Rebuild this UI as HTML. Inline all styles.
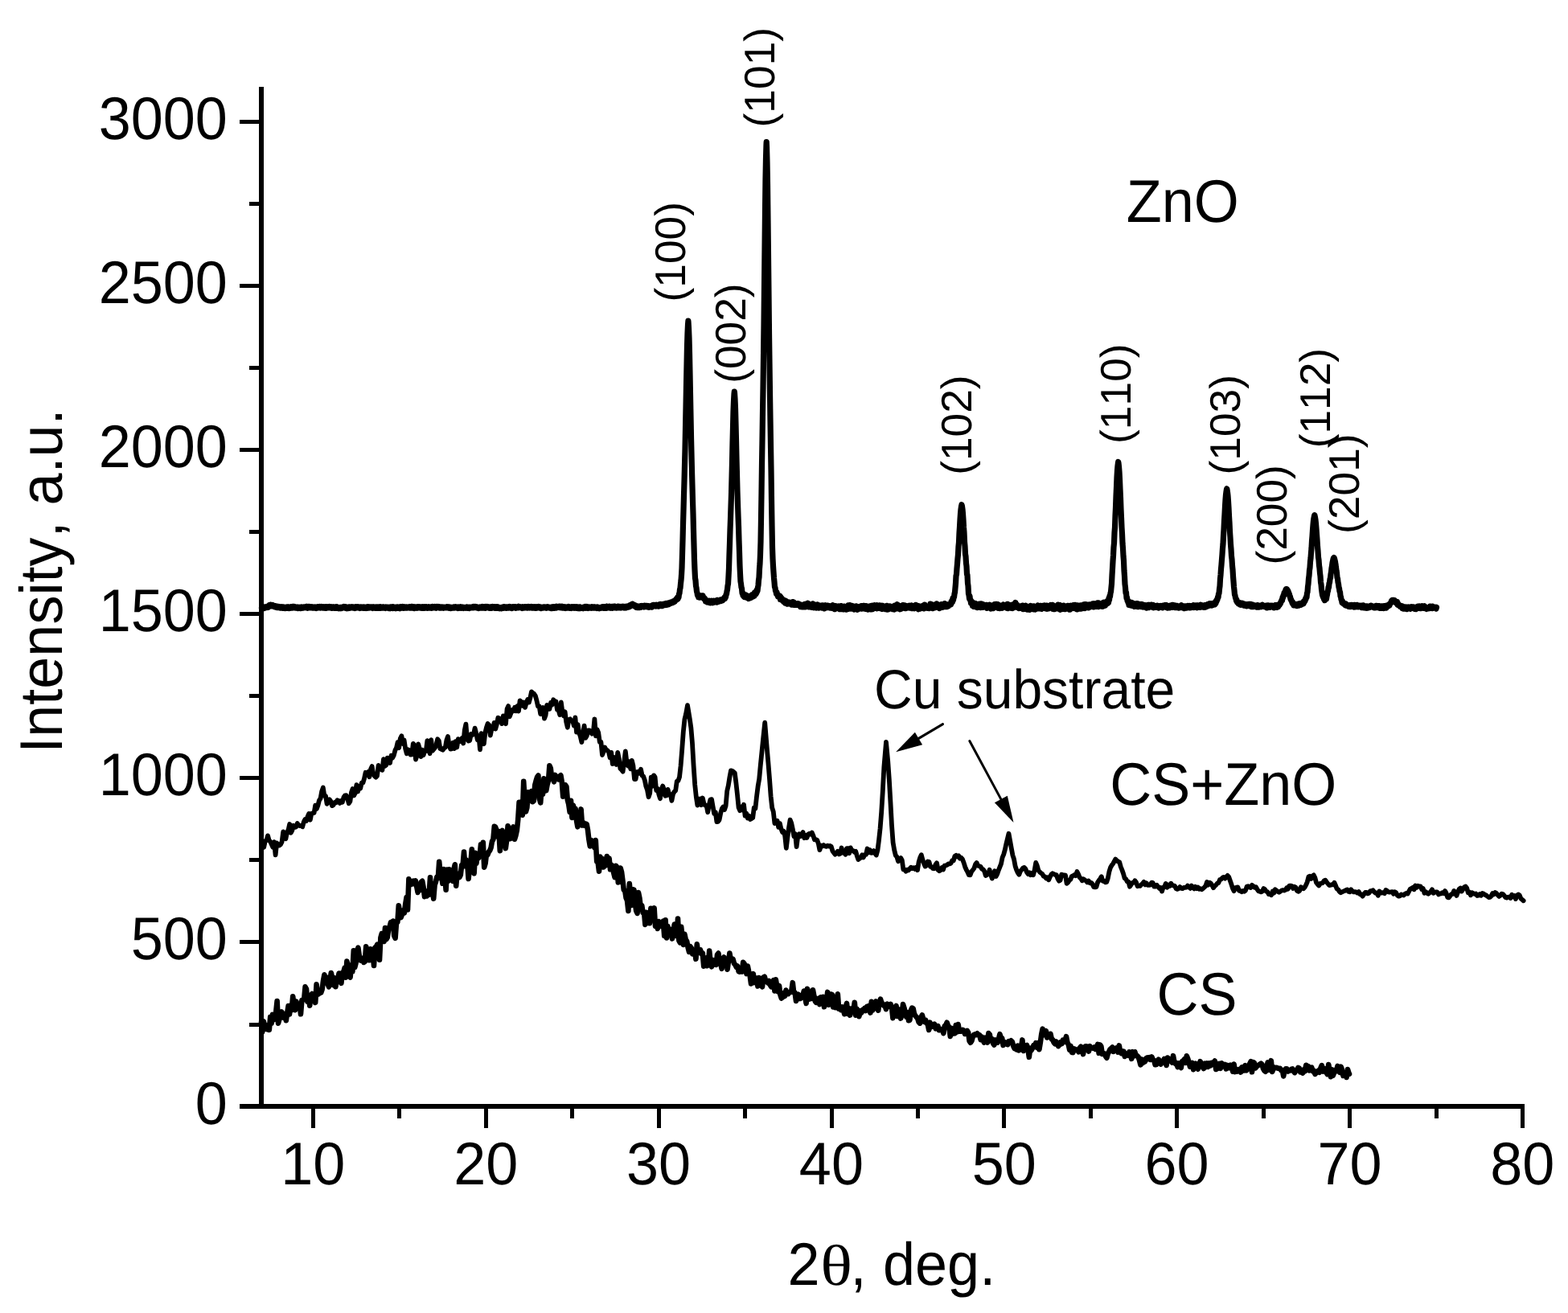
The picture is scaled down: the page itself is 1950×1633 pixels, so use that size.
<!DOCTYPE html>
<html lang="en"><head><meta charset="utf-8"><title>XRD patterns: ZnO, CS+ZnO, CS</title>
<style>html,body{margin:0;padding:0;background:#fff;width:1950px;height:1633px;overflow:hidden}svg{display:block}text{font-family:"Liberation Sans",sans-serif;fill:#000;font-kerning:none;font-variant-ligatures:none;text-rendering:geometricPrecision}.t72{font-size:72px}.t67{font-size:66px}.t53{font-size:53.3px}.sym{font-family:"Liberation Serif",serif}.cv{stroke:#000;fill:none;stroke-linejoin:round;stroke-linecap:round}</style></head><body>
<svg width="1950" height="1633" viewBox="0 0 1950 1633">
<rect width="1950" height="1633" fill="#fff"/>
<g fill="#000" shape-rendering="crispEdges">
<rect x="322" y="108" width="6" height="1271"/>
<rect x="298" y="1373" width="1598" height="6"/>
<rect x="310" y="1271.5" width="12" height="5"/>
<rect x="298" y="1169.4" width="24" height="5"/>
<rect x="310" y="1067.4" width="12" height="5"/>
<rect x="298" y="965.3" width="24" height="5"/>
<rect x="310" y="863.3" width="12" height="5"/>
<rect x="298" y="761.3" width="24" height="5"/>
<rect x="310" y="659.2" width="12" height="5"/>
<rect x="298" y="557.2" width="24" height="5"/>
<rect x="310" y="455.1" width="12" height="5"/>
<rect x="298" y="353.1" width="24" height="5"/>
<rect x="310" y="251.1" width="12" height="5"/>
<rect x="298" y="149.0" width="24" height="5"/>
<rect x="387.0" y="1379" width="5" height="24"/>
<rect x="494.4" y="1379" width="5" height="12"/>
<rect x="601.9" y="1379" width="5" height="24"/>
<rect x="709.3" y="1379" width="5" height="12"/>
<rect x="816.7" y="1379" width="5" height="24"/>
<rect x="924.1" y="1379" width="5" height="12"/>
<rect x="1031.6" y="1379" width="5" height="24"/>
<rect x="1139.0" y="1379" width="5" height="12"/>
<rect x="1246.4" y="1379" width="5" height="24"/>
<rect x="1353.9" y="1379" width="5" height="12"/>
<rect x="1461.3" y="1379" width="5" height="24"/>
<rect x="1568.7" y="1379" width="5" height="12"/>
<rect x="1676.2" y="1379" width="5" height="24"/>
<rect x="1783.6" y="1379" width="5" height="12"/>
<rect x="1891.0" y="1379" width="5" height="24"/>
</g>
<text class="t72" text-anchor="end" transform="translate(282.8,1397.5) scale(1,1.04)">0</text>
<text class="t72" text-anchor="end" transform="translate(282.8,1193.4) scale(1,1.04)">500</text>
<text class="t72" text-anchor="end" transform="translate(282.8,989.3) scale(1,1.04)">1000</text>
<text class="t72" text-anchor="end" transform="translate(282.8,785.3) scale(1,1.04)">1500</text>
<text class="t72" text-anchor="end" transform="translate(282.8,581.2) scale(1,1.04)">2000</text>
<text class="t72" text-anchor="end" transform="translate(282.8,377.1) scale(1,1.04)">2500</text>
<text class="t72" text-anchor="end" transform="translate(282.8,173.0) scale(1,1.04)">3000</text>
<text class="t72" text-anchor="middle" transform="translate(389.3,1473.4) scale(1,1.04)">10</text>
<text class="t72" text-anchor="middle" transform="translate(604.2,1473.4) scale(1,1.04)">20</text>
<text class="t72" text-anchor="middle" transform="translate(819.0,1473.4) scale(1,1.04)">30</text>
<text class="t72" text-anchor="middle" transform="translate(1033.9,1473.4) scale(1,1.04)">40</text>
<text class="t72" text-anchor="middle" transform="translate(1248.7,1473.4) scale(1,1.04)">50</text>
<text class="t72" text-anchor="middle" transform="translate(1463.6,1473.4) scale(1,1.04)">60</text>
<text class="t72" text-anchor="middle" transform="translate(1678.5,1473.4) scale(1,1.04)">70</text>
<text class="t72" text-anchor="middle" transform="translate(1893.3,1473.4) scale(1,1.04)">80</text>
<text class="t72" text-anchor="middle" transform="translate(77.4,722.6) rotate(-90) scale(1,1.04)">Intensity, a.u.</text>
<text class="t72" transform="translate(979.5,1598.4) scale(1,1.04)">2</text>
<text class="t72 sym" transform="translate(1020.2,1598.4) scale(1.15,1.0)">θ</text>
<text class="t72" transform="translate(1057.6,1598.4) scale(1,1.04)">,</text>
<text class="t72" transform="translate(1098.0,1598.4) scale(1,1.04)">deg.</text>
<text class="t72" transform="translate(1400.7,275.9) scale(1,1.04)">ZnO</text>
<text class="t67" transform="translate(1087.0,881.2) scale(1,1.04)">Cu substrate</text>
<text class="t72" transform="translate(1380.2,1001.0) scale(1,1.04)">CS+ZnO</text>
<text class="t72" transform="translate(1438.4,1261.5) scale(1,1.04)">CS</text>
<text class="t53" text-anchor="middle" transform="translate(852.3,313.3) rotate(-90)">(100)</text>
<text class="t53" text-anchor="middle" transform="translate(926.6,414.6) rotate(-90)">(002)</text>
<text class="t53" text-anchor="middle" transform="translate(962.5,96.2) rotate(-90)">(101)</text>
<text class="t53" text-anchor="middle" transform="translate(1207.7,528.6) rotate(-90)">(102)</text>
<text class="t53" text-anchor="middle" transform="translate(1406.2,489.7) rotate(-90)">(110)</text>
<text class="t53" text-anchor="middle" transform="translate(1542.4,528.3) rotate(-90)">(103)</text>
<text class="t53" text-anchor="middle" transform="translate(1599.8,640.4) rotate(-90)">(200)</text>
<text class="t53" text-anchor="middle" transform="translate(1653.8,495.1) rotate(-90)">(112)</text>
<text class="t53" text-anchor="middle" transform="translate(1689.8,601.7) rotate(-90)">(201)</text>
<path d="M1172.5,900.6 L1142.5,918.4" stroke="#000" stroke-width="3" fill="none" stroke-linecap="round"/><path d="M1114.1,935.3 L1137.9,910.7 L1147.1,926.2 Z" fill="#000"/>
<path d="M1205.8,921.5 L1244.8,993.9" stroke="#000" stroke-width="3" fill="none" stroke-linecap="round"/><path d="M1260.5,1023.0 L1236.9,998.2 L1252.8,989.7 Z" fill="#000"/>
<polyline class="cv" stroke-width="7.2" points="325.5,755.9 326.0,755.0 326.5,756.2 327.0,755.2 327.5,756.1 328.0,755.0 328.5,756.5 329.0,755.0 329.5,756.0 330.0,755.4 330.5,755.6 331.0,754.8 331.5,755.5 332.0,754.7 332.5,754.7 333.0,754.5 333.5,755.2 334.0,753.5 334.5,754.0 335.0,752.6 335.5,754.0 336.0,752.5 336.5,753.3 337.0,752.3 337.5,753.8 338.0,753.1 338.5,753.3 339.0,752.4 339.5,753.7 340.0,753.4 340.5,753.8 341.0,753.5 341.5,754.9 342.0,753.6 342.5,754.7 343.0,753.9 343.5,755.0 344.0,754.0 344.5,755.6 345.0,754.5 345.5,755.5 346.0,754.5 346.5,755.3 347.0,754.6 347.5,755.6 348.0,754.8 348.5,756.1 349.0,755.4 349.5,755.5 350.0,754.8 350.5,755.8 351.0,755.3 351.5,756.3 352.0,755.3 352.5,756.0 353.0,755.1 353.5,756.3 354.0,755.4 354.5,756.6 355.0,755.6 355.5,756.1 356.0,755.7 356.5,756.1 357.0,755.0 357.5,755.8 358.0,755.2 358.5,755.8 359.0,755.0 359.5,756.5 360.0,755.1 360.5,755.8 361.0,755.1 361.5,756.2 362.0,755.1 362.5,756.0 363.0,754.7 363.5,756.1 364.0,754.5 364.5,755.4 365.0,754.6 365.5,755.9 366.0,754.4 366.5,755.4 367.0,754.8 367.5,756.1 368.0,755.2 368.5,755.6 369.0,755.3 369.5,755.8 370.0,755.2 370.5,756.6 371.0,755.2 371.5,755.8 372.0,755.7 372.5,756.0 373.0,755.3 373.5,756.6 374.0,755.4 374.5,756.4 375.0,754.9 375.5,756.4 376.0,755.3 376.5,755.7 377.0,755.4 377.5,756.0 378.0,754.9 378.5,755.3 379.0,754.9 379.5,755.4 380.0,755.0 380.5,755.6 381.0,754.4 381.5,755.7 382.0,754.4 382.5,756.2 383.0,754.8 383.5,755.8 384.0,754.6 384.5,755.4 385.0,754.5 385.5,755.9 386.0,755.1 386.5,755.8 387.0,755.2 387.5,755.7 388.0,754.9 388.5,756.0 389.0,755.1 389.5,756.1 390.0,755.2 390.5,756.1 391.0,755.2 391.5,755.7 392.0,755.0 392.5,756.3 393.0,755.3 393.5,756.4 394.0,755.5 394.5,755.6 395.0,754.8 395.5,756.0 396.0,755.4 396.5,755.6 397.0,754.7 397.5,755.5 398.0,754.5 398.5,756.0 399.0,755.2 399.5,755.3 400.0,754.5 400.5,755.9 401.0,755.0 401.5,755.9 402.0,755.2 402.5,756.0 403.0,754.8 403.5,755.9 404.0,755.6 404.5,756.3 405.0,754.8 405.5,756.2 406.0,754.9 406.5,756.2 407.0,754.7 407.5,755.7 408.0,755.4 408.5,755.6 409.0,755.1 409.5,755.8 410.0,754.5 410.5,755.4 411.0,755.2 411.5,755.6 412.0,754.9 412.5,756.3 413.0,755.3 413.5,756.1 414.0,754.9 414.5,755.9 415.0,755.0 415.5,756.2 416.0,755.0 416.5,756.2 417.0,755.4 417.5,756.1 418.0,754.6 418.5,756.3 419.0,754.7 419.5,756.0 420.0,755.2 420.5,756.3 421.0,755.6 421.5,756.7 422.0,755.8 422.5,756.4 423.0,755.5 423.5,756.7 424.0,755.5 424.5,756.6 425.0,755.6 425.5,756.2 426.0,755.3 426.5,755.7 427.0,754.9 427.5,755.6 428.0,754.5 428.5,755.9 429.0,754.6 429.5,756.3 430.0,754.7 430.5,756.1 431.0,755.6 431.5,756.7 432.0,755.7 432.5,756.3 433.0,755.4 433.5,756.4 434.0,755.2 434.5,756.3 435.0,755.0 435.5,756.2 436.0,754.9 436.5,755.5 437.0,755.3 437.5,755.7 438.0,754.8 438.5,755.7 439.0,755.2 439.5,756.0 440.0,754.9 440.5,755.8 441.0,755.3 441.5,756.4 442.0,755.0 442.5,756.2 443.0,754.7 443.5,756.0 444.0,755.1 444.5,755.7 445.0,754.7 445.5,755.7 446.0,755.0 446.5,755.5 447.0,755.2 447.5,756.4 448.0,755.4 448.5,756.2 449.0,755.1 449.5,756.0 450.0,755.2 450.5,755.8 451.0,755.4 451.5,756.1 452.0,754.9 452.5,755.6 453.0,755.4 453.5,756.3 454.0,755.3 454.5,755.8 455.0,755.2 455.5,756.5 456.0,755.2 456.5,756.3 457.0,754.9 457.5,756.2 458.0,754.7 458.5,756.1 459.0,755.0 459.5,755.9 460.0,754.9 460.5,755.7 461.0,755.0 461.5,755.8 462.0,755.0 462.5,756.0 463.0,755.4 463.5,756.4 464.0,755.1 464.5,756.0 465.0,754.9 465.5,755.9 466.0,755.4 466.5,756.3 467.0,755.6 467.5,756.1 468.0,755.1 468.5,756.2 469.0,755.8 469.5,756.2 470.0,755.0 470.5,756.3 471.0,755.1 471.5,756.2 472.0,755.4 472.5,756.0 473.0,754.7 473.5,756.4 474.0,754.9 474.5,756.1 475.0,755.4 475.5,755.9 476.0,755.1 476.5,756.1 477.0,755.1 477.5,756.0 478.0,755.4 478.5,755.8 479.0,755.4 479.5,756.4 480.0,754.9 480.5,755.7 481.0,755.4 481.5,755.7 482.0,755.3 482.5,756.0 483.0,755.3 483.5,756.6 484.0,755.6 484.5,756.5 485.0,755.3 485.5,756.7 486.0,755.0 486.5,756.0 487.0,755.0 487.5,756.4 488.0,754.9 488.5,756.5 489.0,754.8 489.5,756.4 490.0,755.1 490.5,756.0 491.0,755.8 491.5,756.4 492.0,755.3 492.5,756.7 493.0,755.4 493.5,756.3 494.0,755.1 494.5,755.9 495.0,755.0 495.5,756.2 496.0,755.6 496.5,756.4 497.0,755.8 497.5,756.6 498.0,754.8 498.5,756.3 499.0,754.8 499.5,756.0 500.0,755.2 500.5,755.8 501.0,754.6 501.5,756.2 502.0,755.3 502.5,756.1 503.0,754.8 503.5,756.0 504.0,755.2 504.5,756.0 505.0,755.1 505.5,755.9 506.0,755.4 506.5,755.9 507.0,755.3 507.5,755.6 508.0,755.3 508.5,755.5 509.0,754.8 509.5,756.0 510.0,754.7 510.5,756.0 511.0,754.6 511.5,756.1 512.0,754.4 512.5,755.8 513.0,754.6 513.5,756.0 514.0,755.5 514.5,755.5 515.0,754.8 515.5,756.5 516.0,755.4 516.5,756.0 517.0,754.9 517.5,756.1 518.0,755.4 518.5,756.2 519.0,755.0 519.5,756.0 520.0,754.8 520.5,755.8 521.0,754.7 521.5,755.7 522.0,755.0 522.5,756.0 523.0,755.0 523.5,756.1 524.0,754.9 524.5,756.4 525.0,755.3 525.5,756.0 526.0,754.8 526.5,756.2 527.0,755.4 527.5,756.3 528.0,754.7 528.5,755.8 529.0,755.0 529.5,755.9 530.0,754.8 530.5,755.8 531.0,755.0 531.5,756.3 532.0,755.3 532.5,755.6 533.0,754.9 533.5,756.0 534.0,755.1 534.5,755.9 535.0,755.1 535.5,755.8 536.0,755.1 536.5,756.2 537.0,754.9 537.5,756.2 538.0,754.5 538.5,755.5 539.0,755.1 539.5,755.6 540.0,755.2 540.5,755.7 541.0,754.5 541.5,755.5 542.0,755.3 542.5,756.1 543.0,754.5 543.5,755.6 544.0,755.2 544.5,755.4 545.0,754.6 545.5,755.6 546.0,754.9 546.5,756.0 547.0,754.8 547.5,756.1 548.0,755.3 548.5,756.0 549.0,755.1 549.5,755.6 550.0,755.0 550.5,755.6 551.0,755.4 551.5,756.1 552.0,755.2 552.5,755.7 553.0,755.2 553.5,755.5 554.0,755.2 554.5,755.7 555.0,755.0 555.5,755.3 556.0,754.7 556.5,755.3 557.0,755.1 557.5,756.1 558.0,755.3 558.5,756.2 559.0,755.0 559.5,755.8 560.0,755.2 560.5,756.6 561.0,755.4 561.5,756.3 562.0,755.4 562.5,755.6 563.0,755.4 563.5,756.0 564.0,755.4 564.5,755.8 565.0,755.0 565.5,755.9 566.0,755.2 566.5,755.8 567.0,754.7 567.5,755.8 568.0,755.6 568.5,755.9 569.0,755.5 569.5,756.4 570.0,754.9 570.5,755.9 571.0,755.2 571.5,756.3 572.0,755.5 572.5,755.9 573.0,754.8 573.5,756.3 574.0,755.3 574.5,755.7 575.0,755.2 575.5,755.9 576.0,755.2 576.5,756.4 577.0,755.7 577.5,756.0 578.0,755.5 578.5,755.8 579.0,755.5 579.5,756.1 580.0,755.2 580.5,755.9 581.0,755.1 581.5,756.4 582.0,755.2 582.5,756.2 583.0,755.5 583.5,756.5 584.0,755.3 584.5,756.0 585.0,755.2 585.5,755.6 586.0,755.2 586.5,755.8 587.0,755.2 587.5,755.2 588.0,755.0 588.5,755.7 589.0,754.4 589.5,755.6 590.0,754.8 590.5,755.5 591.0,754.4 591.5,755.4 592.0,754.9 592.5,755.7 593.0,754.8 593.5,756.1 594.0,755.1 594.5,756.2 595.0,755.7 595.5,756.5 596.0,755.4 596.5,755.8 597.0,755.1 597.5,756.1 598.0,755.3 598.5,756.0 599.0,755.3 599.5,755.5 600.0,754.6 600.5,755.5 601.0,755.2 601.5,756.0 602.0,754.6 602.5,756.0 603.0,755.1 603.5,756.4 604.0,754.4 604.5,756.1 605.0,754.9 605.5,755.5 606.0,754.5 606.5,755.6 607.0,754.9 607.5,755.9 608.0,755.0 608.5,756.2 609.0,755.3 609.5,755.7 610.0,755.5 610.5,756.3 611.0,754.8 611.5,756.4 612.0,754.8 612.5,755.8 613.0,754.6 613.5,755.8 614.0,755.2 614.5,755.8 615.0,754.8 615.5,756.3 616.0,754.6 616.5,756.0 617.0,755.0 617.5,756.2 618.0,754.8 618.5,756.3 619.0,754.6 619.5,755.8 620.0,755.3 620.5,756.0 621.0,755.6 621.5,756.7 622.0,755.8 622.5,756.2 623.0,755.8 623.5,756.8 624.0,755.5 624.5,756.2 625.0,755.5 625.5,756.2 626.0,755.0 626.5,755.7 627.0,754.7 627.5,756.1 628.0,754.8 628.5,755.7 629.0,755.3 629.5,756.3 630.0,755.1 630.5,756.3 631.0,755.0 631.5,755.9 632.0,755.0 632.5,756.1 633.0,754.6 633.5,755.7 634.0,754.5 634.5,755.8 635.0,754.9 635.5,756.0 636.0,755.0 636.5,756.5 637.0,755.1 637.5,755.9 638.0,754.8 638.5,756.0 639.0,754.8 639.5,755.7 640.0,754.7 640.5,755.7 641.0,754.7 641.5,756.3 642.0,755.0 642.5,755.8 643.0,755.1 643.5,755.7 644.0,754.9 644.5,755.2 645.0,754.4 645.5,755.7 646.0,754.7 646.5,755.5 647.0,755.0 647.5,755.7 648.0,755.0 648.5,755.9 649.0,755.2 649.5,756.4 650.0,754.6 650.5,755.9 651.0,755.0 651.5,756.0 652.0,755.1 652.5,755.5 653.0,754.7 653.5,755.5 654.0,755.0 654.5,755.8 655.0,754.7 655.5,756.0 656.0,754.9 656.5,755.9 657.0,754.5 657.5,755.4 658.0,754.9 658.5,755.9 659.0,754.6 659.5,755.8 660.0,755.1 660.5,755.3 661.0,754.5 661.5,756.0 662.0,754.6 662.5,755.3 663.0,754.7 663.5,756.1 664.0,755.1 664.5,756.1 665.0,754.7 665.5,756.3 666.0,755.3 666.5,755.5 667.0,754.8 667.5,756.2 668.0,754.9 668.5,756.0 669.0,755.4 669.5,755.6 670.0,754.5 670.5,755.8 671.0,754.7 671.5,755.9 672.0,754.9 672.5,756.5 673.0,755.4 673.5,756.4 674.0,755.4 674.5,756.0 675.0,755.4 675.5,755.9 676.0,755.2 676.5,755.8 677.0,755.0 677.5,755.6 678.0,755.0 678.5,755.6 679.0,755.3 679.5,756.1 680.0,755.2 680.5,756.0 681.0,754.7 681.5,755.6 682.0,755.1 682.5,755.7 683.0,755.2 683.5,755.9 684.0,755.6 684.5,756.1 685.0,755.7 685.5,756.5 686.0,755.1 686.5,756.5 687.0,754.9 687.5,756.2 688.0,755.0 688.5,756.2 689.0,754.7 689.5,756.4 690.0,755.1 690.5,756.0 691.0,755.2 691.5,756.1 692.0,754.3 692.5,755.9 693.0,755.2 693.5,755.2 694.0,754.6 694.5,755.3 695.0,754.6 695.5,755.4 696.0,754.2 696.5,755.6 697.0,754.3 697.5,755.7 698.0,754.8 698.5,755.8 699.0,754.2 699.5,756.0 700.0,754.8 700.5,755.7 701.0,755.3 701.5,755.6 702.0,754.9 702.5,756.3 703.0,755.2 703.5,756.5 704.0,754.9 704.5,756.2 705.0,755.3 705.5,755.8 706.0,755.3 706.5,755.9 707.0,754.5 707.5,755.9 708.0,755.1 708.5,756.2 709.0,755.5 709.5,756.2 710.0,755.4 710.5,756.4 711.0,754.8 711.5,756.0 712.0,755.1 712.5,755.9 713.0,754.6 713.5,755.4 714.0,755.2 714.5,756.3 715.0,754.7 715.5,755.9 716.0,755.4 716.5,756.3 717.0,754.7 717.5,756.0 718.0,754.9 718.5,756.5 719.0,754.9 719.5,756.6 720.0,755.4 720.5,756.7 721.0,754.8 721.5,756.4 722.0,755.4 722.5,756.5 723.0,755.6 723.5,756.0 724.0,755.7 724.5,756.3 725.0,755.4 725.5,756.7 726.0,755.1 726.5,756.3 727.0,755.3 727.5,755.9 728.0,754.5 728.5,756.3 729.0,755.0 729.5,755.5 730.0,754.6 730.5,756.3 731.0,755.2 731.5,756.4 732.0,755.4 732.5,755.9 733.0,754.9 733.5,755.4 734.0,755.3 734.5,755.6 735.0,755.4 735.5,756.2 736.0,754.7 736.5,756.0 737.0,755.4 737.5,755.9 738.0,754.9 738.5,756.0 739.0,754.9 739.5,755.9 740.0,755.1 740.5,756.1 741.0,755.5 741.5,756.0 742.0,755.5 742.5,756.4 743.0,754.9 743.5,756.2 744.0,755.3 744.5,756.3 745.0,755.7 745.5,756.8 746.0,755.7 746.5,756.0 747.0,755.5 747.5,756.3 748.0,755.7 748.5,756.0 749.0,755.0 749.5,756.0 750.0,754.6 750.5,756.4 751.0,754.8 751.5,755.9 752.0,754.7 752.5,756.3 753.0,754.9 753.5,755.6 754.0,754.4 754.5,756.3 755.0,754.2 755.5,755.3 756.0,755.0 756.5,755.6 757.0,755.0 757.5,755.5 758.0,754.2 758.5,756.0 759.0,755.0 759.5,756.2 760.0,754.7 760.5,755.6 761.0,754.6 761.5,756.2 762.0,754.3 762.5,755.4 763.0,754.6 763.5,755.7 764.0,754.2 764.5,755.8 765.0,754.2 765.5,755.7 766.0,754.8 766.5,755.9 767.0,754.7 767.5,756.0 768.0,754.4 768.5,755.9 769.0,754.3 769.5,755.5 770.0,754.5 770.5,755.9 771.0,754.4 771.5,755.5 772.0,754.8 772.5,756.0 773.0,754.5 773.5,755.4 774.0,754.8 774.5,755.3 775.0,754.3 775.5,755.4 776.0,754.8 776.5,755.9 777.0,754.4 777.5,755.3 778.0,754.9 778.5,755.9 779.0,754.1 779.5,755.6 780.0,754.1 780.5,755.2 781.0,754.2 781.5,755.1 782.0,754.2 782.5,754.8 783.0,753.0 783.5,754.3 784.0,752.3 784.5,753.5 785.0,752.0 785.5,752.6 786.0,751.8 786.5,752.1 786.7,751.1 787.0,752.3 787.5,751.8 788.0,753.0 788.5,752.7 789.0,753.8 789.5,752.6 790.0,754.1 790.5,753.7 791.0,755.2 791.5,754.5 792.0,755.2 792.5,753.7 793.0,755.7 793.5,754.4 794.0,755.6 794.5,754.7 795.0,754.7 795.5,754.4 796.0,755.4 796.5,753.7 797.0,755.3 797.5,753.8 798.0,754.6 798.5,753.5 799.0,754.4 799.5,753.7 800.0,754.5 800.5,753.7 801.0,754.9 801.5,753.3 802.0,754.7 802.5,753.7 803.0,754.6 803.5,753.5 804.0,754.5 804.5,753.4 805.0,754.5 805.5,753.9 806.0,755.0 806.5,753.7 807.0,755.3 807.5,754.2 808.0,754.5 808.5,754.2 809.0,754.5 809.5,753.7 810.0,754.9 810.5,753.2 811.0,755.0 811.5,753.8 812.0,753.6 812.5,752.6 813.0,753.7 813.5,752.5 814.0,753.6 814.5,752.6 815.0,753.4 815.5,752.8 816.0,754.0 816.5,752.2 817.0,753.9 817.5,753.3 818.0,753.7 818.5,752.9 819.0,754.1 819.5,752.4 820.0,753.1 820.5,751.8 821.0,753.0 821.5,751.4 822.0,753.5 822.5,751.6 823.0,753.1 823.5,751.8 824.0,753.5 824.5,751.7 825.0,753.0 825.5,751.3 826.0,752.3 826.5,751.9 827.0,752.4 827.5,751.5 828.0,751.8 828.5,750.5 829.0,752.2 829.5,750.6 830.0,752.1 830.5,750.2 831.0,751.9 831.5,750.1 832.0,751.6 832.5,749.7 833.0,750.5 833.5,749.9 834.0,749.9 834.5,749.0 835.0,750.0 835.5,749.0 836.0,749.4 836.5,748.7 837.0,749.5 837.5,747.8 838.0,748.7 838.5,747.4 839.0,748.4 839.5,746.7 840.0,746.5 840.5,745.4 841.0,746.3 841.5,744.6 842.0,745.8 842.5,743.2 843.0,745.1 843.5,742.7 844.0,742.8 844.5,738.6 845.0,737.9 845.5,733.2 846.0,731.3 846.5,726.0 847.0,721.7 847.5,715.4 848.0,706.6 848.5,689.6 849.0,672.5 849.5,652.2 850.0,634.8 850.5,616.2 851.0,598.5 851.5,578.6 852.0,558.9 852.5,533.9 853.0,507.7 853.5,479.9 854.0,455.1 854.5,430.9 855.0,415.3 855.5,404.1 855.9,399.2 856.0,400.0 856.5,408.1 857.0,420.5 857.5,440.2 858.0,465.0 858.5,491.4 859.0,518.1 859.5,544.0 860.0,565.4 860.5,586.6 861.0,605.2 861.5,623.5 862.0,639.5 862.5,660.1 863.0,678.5 863.5,696.9 864.0,709.2 864.5,719.1 865.0,721.7 865.5,728.8 866.0,731.0 866.5,735.6 867.0,737.2 867.5,740.5 868.0,740.6 868.5,742.5 869.0,741.9 869.5,742.9 870.0,741.9 870.5,743.0 871.0,740.8 871.5,742.5 872.0,741.6 872.5,743.0 873.0,741.2 873.5,742.8 874.0,740.8 874.5,743.3 875.0,742.6 875.5,744.5 876.0,743.8 876.5,745.8 877.0,744.9 877.5,747.8 878.0,746.1 878.5,748.3 879.0,747.7 879.5,748.9 880.0,748.1 880.5,748.8 881.0,748.0 881.5,748.7 882.0,747.2 882.5,749.6 883.0,748.0 883.5,749.8 884.0,748.4 884.5,749.1 885.0,747.3 885.5,749.5 886.0,748.3 886.5,749.7 887.0,747.7 887.5,749.4 888.0,747.2 888.5,748.9 889.0,747.4 889.5,748.9 890.0,747.6 890.5,748.3 891.0,747.6 891.5,749.0 892.0,746.4 892.5,748.5 893.0,747.2 893.5,748.4 894.0,747.2 894.5,747.3 895.0,746.4 895.5,747.4 896.0,746.2 896.5,747.6 897.0,746.0 897.5,747.0 898.0,745.5 898.5,746.9 899.0,745.3 899.5,745.7 900.0,744.8 900.5,745.0 901.0,743.0 901.5,744.6 902.0,743.1 902.5,742.6 903.0,739.4 903.5,738.9 904.0,735.4 904.5,733.3 905.0,728.6 905.5,726.2 906.0,717.2 906.5,707.1 907.0,689.8 907.5,675.6 908.0,659.0 908.5,645.9 909.0,630.3 909.5,615.4 910.0,595.6 910.5,576.1 911.0,552.3 911.5,532.3 912.0,511.7 912.5,498.8 913.0,489.9 913.3,487.1 913.5,488.7 914.0,496.5 914.5,508.2 915.0,527.5 915.5,548.1 916.0,571.3 916.5,591.0 917.0,611.1 917.5,626.5 918.0,641.6 918.5,654.5 919.0,672.2 919.5,686.7 920.0,703.4 920.5,714.1 921.0,723.2 921.5,726.1 922.0,730.5 922.5,731.8 923.0,737.3 923.5,736.9 924.0,740.6 924.5,739.6 925.0,741.6 925.5,739.6 926.0,742.6 926.5,739.8 927.0,742.6 927.5,739.8 928.0,742.1 928.5,740.6 929.0,743.3 929.5,741.0 930.0,743.5 930.5,741.2 931.0,744.5 931.5,742.0 932.0,744.3 932.5,741.8 933.0,743.3 933.5,741.1 934.0,743.4 934.5,740.8 935.0,742.4 935.5,739.7 936.0,741.3 936.5,740.7 937.0,741.7 937.5,738.9 938.0,741.3 938.5,737.2 939.0,738.9 939.5,737.3 940.0,738.9 940.5,735.2 941.0,737.2 941.5,733.4 942.0,735.1 942.5,730.6 943.0,727.9 943.5,721.4 944.0,718.0 944.5,707.4 945.0,701.1 945.5,690.0 946.0,674.3 946.5,645.7 947.0,613.8 947.5,578.0 948.0,548.1 948.5,513.9 949.0,483.0 949.5,444.7 950.0,405.5 950.5,358.0 951.0,311.1 951.5,264.4 952.0,223.0 952.5,197.2 953.0,180.0 953.2,176.5 953.5,182.7 954.0,201.8 954.5,230.7 955.0,274.0 955.5,320.8 956.0,367.6 956.5,415.1 957.0,452.6 957.5,489.1 958.0,522.0 958.5,554.1 959.0,584.2 959.5,621.7 960.0,653.4 960.5,680.8 961.0,694.8 961.5,704.2 962.0,711.4 962.5,718.8 963.0,723.9 963.5,730.3 964.0,730.9 964.5,735.1 965.0,735.2 965.5,738.6 966.0,736.5 966.5,739.3 967.0,739.1 967.5,741.7 968.0,740.2 968.5,741.7 969.0,742.3 969.5,743.4 970.0,741.3 970.5,745.5 971.0,742.5 971.5,745.3 972.0,743.8 972.5,746.3 973.0,744.8 973.5,747.0 974.0,746.1 974.5,748.3 975.0,747.5 975.5,748.6 976.0,746.8 976.5,750.0 977.0,747.0 977.5,749.9 978.0,748.2 978.5,749.8 979.0,748.9 979.5,751.2 980.0,748.8 980.5,750.0 981.0,749.6 981.5,750.4 982.0,749.1 982.5,751.2 983.0,750.1 983.5,750.9 984.0,749.6 984.5,752.0 985.0,750.3 985.5,750.9 986.0,748.6 986.5,752.2 987.0,748.8 987.5,752.3 988.0,750.4 988.5,752.4 989.0,750.9 989.5,752.4 990.0,751.9 990.5,752.3 991.0,751.0 991.5,752.3 992.0,750.6 992.5,751.8 993.0,750.8 993.5,752.7 994.0,751.4 994.5,752.2 995.0,751.8 995.5,754.5 996.0,752.7 996.5,754.4 997.0,752.5 997.5,754.8 998.0,752.3 998.5,754.8 999.0,752.4 999.5,754.7 1000.0,752.4 1000.5,754.8 1001.0,751.3 1001.5,755.0 1002.0,752.3 1002.5,752.7 1003.0,750.8 1003.5,753.1 1004.0,751.6 1004.5,753.8 1005.0,750.2 1005.5,753.2 1006.0,751.5 1006.5,754.9 1007.0,753.1 1007.5,753.9 1008.0,752.7 1008.5,754.9 1009.0,752.0 1009.5,755.3 1010.0,752.4 1010.5,754.5 1011.0,750.8 1011.5,753.6 1012.0,751.6 1012.5,755.8 1013.0,752.6 1013.5,754.4 1014.0,752.3 1014.5,754.4 1015.0,753.3 1015.5,756.0 1016.0,753.4 1016.5,754.8 1017.0,752.0 1017.5,755.5 1018.0,754.4 1018.5,756.0 1019.0,753.3 1019.5,755.4 1020.0,754.0 1020.5,754.6 1021.0,753.1 1021.5,755.2 1022.0,753.6 1022.5,756.1 1023.0,752.9 1023.5,755.2 1024.0,753.8 1024.5,756.4 1025.0,753.4 1025.5,756.9 1026.0,752.8 1026.5,755.0 1027.0,752.9 1027.5,756.0 1028.0,753.3 1028.5,755.3 1029.0,753.1 1029.5,755.6 1030.0,753.3 1030.5,755.3 1031.0,754.5 1031.5,755.2 1032.0,753.6 1032.5,756.0 1033.0,754.3 1033.5,755.1 1034.0,754.3 1034.5,756.3 1035.0,753.8 1035.5,755.6 1036.0,752.7 1036.5,756.4 1037.0,755.4 1037.5,757.5 1038.0,755.1 1038.5,757.7 1039.0,753.5 1039.5,756.8 1040.0,753.9 1040.5,755.8 1041.0,754.2 1041.5,755.6 1042.0,754.6 1042.5,755.4 1043.0,754.0 1043.5,756.5 1044.0,754.5 1044.5,757.7 1045.0,754.4 1045.5,756.5 1046.0,753.6 1046.5,757.7 1047.0,753.9 1047.5,757.7 1048.0,755.2 1048.5,756.4 1049.0,754.4 1049.5,757.9 1050.0,754.1 1050.5,756.4 1051.0,755.0 1051.5,757.4 1052.0,755.4 1052.5,758.2 1053.0,754.4 1053.5,757.0 1054.0,754.7 1054.5,756.6 1055.0,752.8 1055.5,757.3 1056.0,754.2 1056.5,756.3 1057.0,752.6 1057.5,755.4 1058.0,754.4 1058.5,757.1 1059.0,754.0 1059.5,755.9 1060.0,753.5 1060.5,755.2 1061.0,754.9 1061.5,755.4 1062.0,754.5 1062.5,758.0 1063.0,754.4 1063.5,757.7 1064.0,756.0 1064.5,757.3 1065.0,753.8 1065.5,757.4 1066.0,754.6 1066.5,758.3 1067.0,754.7 1067.5,757.6 1068.0,754.9 1068.5,756.5 1069.0,755.2 1069.5,755.8 1070.0,754.3 1070.5,755.7 1071.0,753.6 1071.5,757.1 1072.0,753.6 1072.5,754.6 1073.0,753.7 1073.5,755.1 1074.0,753.5 1074.5,756.9 1075.0,753.5 1075.5,756.5 1076.0,754.5 1076.5,757.3 1077.0,753.6 1077.5,756.9 1078.0,753.9 1078.5,757.2 1079.0,754.5 1079.5,758.1 1080.0,755.6 1080.5,756.7 1081.0,755.0 1081.5,756.2 1082.0,753.8 1082.5,756.1 1083.0,753.8 1083.5,758.0 1084.0,753.4 1084.5,756.8 1085.0,754.4 1085.5,757.6 1086.0,753.2 1086.5,756.1 1087.0,753.7 1087.5,755.7 1088.0,752.7 1088.5,755.6 1089.0,754.6 1089.5,756.2 1090.0,755.1 1090.5,756.7 1091.0,752.7 1091.5,755.7 1092.0,754.6 1092.5,755.7 1093.0,753.3 1093.5,756.4 1094.0,752.8 1094.5,756.6 1095.0,753.6 1095.5,755.3 1096.0,753.7 1096.5,755.2 1097.0,753.2 1097.5,757.5 1098.0,753.3 1098.5,756.9 1099.0,755.0 1099.5,755.6 1100.0,754.4 1100.5,756.0 1101.0,754.3 1101.5,757.7 1102.0,754.2 1102.5,756.6 1103.0,753.4 1103.5,758.2 1104.0,755.0 1104.5,757.0 1105.0,754.6 1105.5,757.8 1106.0,754.2 1106.5,755.8 1107.0,754.0 1107.5,756.2 1108.0,754.8 1108.5,756.3 1109.0,755.1 1109.5,757.3 1110.0,754.3 1110.5,757.7 1111.0,754.6 1111.5,756.7 1112.0,755.7 1112.5,758.0 1113.0,753.0 1113.5,757.4 1114.0,753.7 1114.5,755.7 1115.0,753.6 1115.5,755.0 1116.0,751.7 1116.5,755.9 1117.0,753.1 1117.5,757.0 1118.0,754.3 1118.5,756.2 1119.0,754.0 1119.5,757.8 1120.0,753.7 1120.5,757.4 1121.0,753.7 1121.5,756.1 1122.0,754.7 1122.5,756.2 1123.0,752.5 1123.5,756.1 1124.0,754.5 1124.5,756.3 1125.0,752.9 1125.5,754.9 1126.0,753.4 1126.5,756.7 1127.0,754.1 1127.5,755.2 1128.0,753.7 1128.5,755.8 1129.0,754.2 1129.5,755.8 1130.0,754.5 1130.5,754.9 1131.0,753.1 1131.5,756.1 1132.0,754.5 1132.5,755.0 1133.0,753.1 1133.5,755.8 1134.0,753.0 1134.5,756.7 1135.0,754.7 1135.5,756.7 1136.0,753.6 1136.5,756.1 1137.0,753.7 1137.5,756.8 1138.0,753.5 1138.5,755.6 1139.0,752.4 1139.5,755.2 1140.0,753.0 1140.5,756.2 1141.0,753.4 1141.5,756.0 1142.0,753.6 1142.5,757.8 1143.0,753.7 1143.5,756.0 1144.0,755.1 1144.5,757.0 1145.0,755.2 1145.5,755.9 1146.0,754.3 1146.5,754.6 1147.0,753.8 1147.5,756.2 1148.0,754.1 1148.5,755.9 1149.0,753.7 1149.5,756.9 1150.0,752.1 1150.5,754.8 1151.0,753.6 1151.5,755.0 1152.0,754.6 1152.5,755.1 1153.0,754.0 1153.5,756.3 1154.0,754.1 1154.5,755.9 1155.0,753.9 1155.5,756.7 1156.0,754.0 1156.5,755.6 1157.0,751.2 1157.5,755.9 1158.0,752.4 1158.5,753.8 1159.0,753.4 1159.5,756.5 1160.0,752.0 1160.5,756.6 1161.0,752.8 1161.5,754.8 1162.0,753.8 1162.5,755.9 1163.0,753.3 1163.5,755.5 1164.0,752.8 1164.5,754.8 1165.0,750.9 1165.5,755.0 1166.0,753.7 1166.5,755.0 1167.0,753.4 1167.5,754.3 1168.0,752.4 1168.5,756.7 1169.0,753.1 1169.5,755.8 1170.0,752.0 1170.5,755.7 1171.0,751.6 1171.5,754.5 1172.0,752.9 1172.5,755.3 1173.0,751.6 1173.5,754.8 1174.0,751.9 1174.5,754.5 1175.0,750.5 1175.5,754.3 1176.0,751.4 1176.5,754.5 1177.0,751.5 1177.5,754.6 1178.0,752.4 1178.5,752.5 1179.0,752.5 1179.5,753.8 1180.0,751.7 1180.5,751.9 1181.0,751.5 1181.5,751.5 1182.0,750.8 1182.5,752.0 1183.0,748.5 1183.5,749.8 1184.0,746.8 1184.5,748.8 1185.0,744.2 1185.5,746.3 1186.0,743.4 1186.5,742.7 1187.0,738.7 1187.5,736.6 1188.0,731.1 1188.5,725.7 1189.0,716.1 1189.5,714.6 1190.0,706.8 1190.5,701.3 1191.0,694.6 1191.5,689.6 1192.0,679.5 1192.5,674.6 1193.0,662.9 1193.5,655.5 1194.0,646.5 1194.5,639.1 1195.0,633.4 1195.5,629.9 1196.0,627.7 1196.5,629.9 1197.0,633.4 1197.5,639.3 1198.0,646.5 1198.5,656.0 1199.0,662.3 1199.5,674.1 1200.0,679.4 1200.5,689.1 1201.0,691.9 1201.5,700.6 1202.0,704.2 1202.5,714.2 1203.0,715.1 1203.5,725.2 1204.0,728.8 1204.5,738.5 1205.0,740.1 1205.5,744.2 1206.0,741.4 1206.5,746.1 1207.0,746.1 1207.5,750.0 1208.0,747.5 1208.5,750.9 1209.0,748.5 1209.5,753.3 1210.0,750.9 1210.5,752.8 1211.0,750.3 1211.5,754.5 1212.0,751.5 1212.5,754.5 1213.0,750.3 1213.5,753.6 1214.0,752.0 1214.5,754.1 1215.0,752.7 1215.5,755.7 1216.0,753.0 1216.5,755.1 1217.0,751.3 1217.5,754.7 1218.0,751.0 1218.5,754.6 1219.0,753.0 1219.5,755.7 1220.0,750.8 1220.5,754.0 1221.0,751.4 1221.5,755.4 1222.0,751.2 1222.5,755.5 1223.0,751.7 1223.5,753.8 1224.0,753.2 1224.5,754.4 1225.0,752.6 1225.5,754.8 1226.0,753.0 1226.5,755.3 1227.0,752.4 1227.5,756.4 1228.0,752.8 1228.5,755.2 1229.0,753.7 1229.5,754.8 1230.0,753.6 1230.5,755.2 1231.0,752.2 1231.5,755.5 1232.0,754.4 1232.5,757.0 1233.0,753.9 1233.5,756.6 1234.0,753.1 1234.5,756.3 1235.0,753.4 1235.5,756.7 1236.0,752.3 1236.5,755.4 1237.0,751.5 1237.5,755.0 1238.0,753.7 1238.5,754.9 1239.0,751.3 1239.5,754.1 1240.0,752.6 1240.5,755.2 1241.0,751.6 1241.5,756.3 1242.0,752.6 1242.5,755.2 1243.0,752.7 1243.5,756.6 1244.0,753.1 1244.5,755.1 1245.0,754.1 1245.5,756.0 1246.0,753.8 1246.5,756.3 1247.0,752.9 1247.5,754.3 1248.0,752.0 1248.5,754.8 1249.0,752.9 1249.5,754.9 1250.0,753.1 1250.5,754.4 1251.0,753.6 1251.5,754.5 1252.0,752.2 1252.5,756.4 1253.0,751.4 1253.5,756.6 1254.0,751.9 1254.5,754.3 1255.0,752.3 1255.5,756.0 1256.0,753.9 1256.5,755.8 1257.0,753.2 1257.5,755.2 1258.0,752.5 1258.5,756.5 1259.0,753.7 1259.5,756.5 1260.0,752.7 1260.5,754.9 1261.0,751.3 1261.5,753.3 1262.0,751.8 1262.5,752.9 1263.0,749.5 1263.5,753.7 1264.0,751.7 1264.5,755.3 1265.0,752.3 1265.5,754.2 1266.0,754.0 1266.5,756.0 1267.0,754.5 1267.5,756.6 1268.0,755.1 1268.5,755.7 1269.0,754.7 1269.5,755.5 1270.0,753.6 1270.5,756.7 1271.0,755.2 1271.5,756.2 1272.0,753.1 1272.5,757.7 1273.0,755.4 1273.5,756.7 1274.0,754.2 1274.5,756.5 1275.0,754.7 1275.5,757.3 1276.0,753.2 1276.5,755.7 1277.0,754.5 1277.5,758.1 1278.0,755.4 1278.5,756.5 1279.0,755.5 1279.5,756.4 1280.0,755.9 1280.5,758.4 1281.0,754.2 1281.5,756.9 1282.0,753.5 1282.5,757.6 1283.0,753.9 1283.5,756.0 1284.0,754.6 1284.5,756.7 1285.0,755.4 1285.5,757.8 1286.0,753.8 1286.5,757.2 1287.0,756.3 1287.5,758.1 1288.0,754.6 1288.5,757.4 1289.0,754.5 1289.5,757.0 1290.0,755.4 1290.5,755.9 1291.0,753.0 1291.5,757.0 1292.0,753.9 1292.5,756.6 1293.0,754.4 1293.5,755.9 1294.0,753.4 1294.5,757.1 1295.0,755.3 1295.5,757.4 1296.0,753.5 1296.5,756.7 1297.0,753.4 1297.5,756.0 1298.0,754.2 1298.5,754.9 1299.0,752.9 1299.5,756.1 1300.0,754.1 1300.5,756.9 1301.0,754.2 1301.5,757.0 1302.0,753.1 1302.5,757.3 1303.0,755.3 1303.5,756.0 1304.0,755.0 1304.5,756.7 1305.0,754.8 1305.5,756.2 1306.0,753.1 1306.5,755.5 1307.0,752.5 1307.5,754.7 1308.0,753.4 1308.5,755.7 1309.0,752.4 1309.5,757.4 1310.0,754.7 1310.5,757.7 1311.0,755.6 1311.5,757.7 1312.0,755.5 1312.5,756.9 1313.0,754.0 1313.5,756.8 1314.0,755.5 1314.5,756.7 1315.0,754.1 1315.5,756.8 1316.0,752.2 1316.5,755.9 1317.0,753.1 1317.5,755.9 1318.0,752.6 1318.5,758.3 1319.0,755.1 1319.5,756.3 1320.0,755.0 1320.5,757.6 1321.0,755.3 1321.5,757.1 1322.0,753.8 1322.5,757.5 1323.0,753.1 1323.5,756.9 1324.0,755.7 1324.5,757.7 1325.0,754.2 1325.5,755.9 1326.0,755.4 1326.5,757.1 1327.0,755.2 1327.5,756.4 1328.0,753.4 1328.5,757.1 1329.0,754.2 1329.5,756.4 1330.0,754.0 1330.5,758.2 1331.0,753.3 1331.5,756.0 1332.0,753.3 1332.5,756.0 1333.0,755.2 1333.5,756.6 1334.0,754.2 1334.5,755.5 1335.0,752.6 1335.5,754.8 1336.0,753.7 1336.5,756.7 1337.0,752.4 1337.5,754.3 1338.0,753.8 1338.5,756.4 1339.0,753.2 1339.5,758.0 1340.0,752.9 1340.5,756.0 1341.0,754.9 1341.5,756.4 1342.0,753.3 1342.5,755.2 1343.0,753.3 1343.5,757.1 1344.0,752.8 1344.5,757.1 1345.0,754.6 1345.5,755.6 1346.0,753.6 1346.5,756.6 1347.0,753.7 1347.5,756.3 1348.0,751.8 1348.5,755.5 1349.0,753.2 1349.5,756.5 1350.0,751.7 1350.5,755.0 1351.0,753.0 1351.5,754.9 1352.0,752.0 1352.5,755.4 1353.0,753.8 1353.5,755.8 1354.0,753.3 1354.5,755.8 1355.0,751.8 1355.5,755.0 1356.0,753.5 1356.5,754.2 1357.0,752.3 1357.5,753.7 1358.0,751.7 1358.5,753.7 1359.0,750.8 1359.5,754.1 1360.0,752.5 1360.5,754.9 1361.0,750.7 1361.5,753.8 1362.0,751.7 1362.5,753.2 1363.0,751.9 1363.5,754.3 1364.0,752.7 1364.5,753.0 1365.0,750.0 1365.5,754.5 1366.0,749.9 1366.5,754.6 1367.0,751.8 1367.5,754.1 1368.0,750.5 1368.5,753.0 1369.0,751.1 1369.5,752.8 1370.0,750.6 1370.5,754.2 1371.0,752.1 1371.5,754.3 1372.0,749.7 1372.5,753.3 1373.0,749.1 1373.5,752.9 1374.0,750.6 1374.5,753.1 1375.0,751.0 1375.5,751.8 1376.0,749.7 1376.5,750.6 1377.0,747.7 1377.5,750.5 1378.0,748.6 1378.5,749.7 1379.0,744.2 1379.5,746.3 1380.0,741.3 1380.5,742.2 1381.0,737.8 1381.5,736.1 1382.0,730.9 1382.5,725.9 1383.0,715.5 1383.5,707.0 1384.0,698.0 1384.5,691.0 1385.0,680.5 1385.5,675.7 1386.0,662.5 1386.5,656.1 1387.0,641.7 1387.5,631.5 1388.0,617.4 1388.5,606.3 1389.0,593.8 1389.5,585.4 1390.0,579.4 1390.5,575.4 1390.7,574.5 1391.0,576.0 1391.5,580.4 1392.0,586.8 1392.5,596.4 1393.0,608.5 1393.5,619.3 1394.0,633.4 1394.5,644.0 1395.0,655.9 1395.5,664.0 1396.0,675.6 1396.5,682.1 1397.0,691.4 1397.5,697.4 1398.0,709.8 1398.5,716.6 1399.0,726.6 1399.5,730.4 1400.0,737.3 1400.5,736.6 1401.0,743.7 1401.5,742.7 1402.0,746.8 1402.5,746.7 1403.0,749.4 1403.5,747.6 1404.0,752.5 1404.5,749.0 1405.0,752.5 1405.5,749.5 1406.0,751.5 1406.5,750.3 1407.0,753.2 1407.5,749.4 1408.0,752.5 1408.5,749.8 1409.0,753.5 1409.5,752.5 1410.0,753.7 1410.5,750.7 1411.0,754.5 1411.5,752.0 1412.0,753.9 1412.5,751.0 1413.0,753.5 1413.5,750.7 1414.0,753.5 1414.5,750.6 1415.0,754.6 1415.5,751.3 1416.0,754.7 1416.5,752.0 1417.0,753.7 1417.5,751.4 1418.0,753.3 1418.5,753.1 1419.0,753.4 1419.5,751.4 1420.0,754.7 1420.5,751.6 1421.0,754.5 1421.5,752.6 1422.0,755.0 1422.5,752.3 1423.0,753.9 1423.5,753.1 1424.0,755.1 1424.5,752.7 1425.0,755.2 1425.5,753.4 1426.0,756.1 1426.5,754.0 1427.0,754.5 1427.5,752.4 1428.0,754.6 1428.5,752.5 1429.0,755.7 1429.5,752.3 1430.0,754.9 1430.5,752.6 1431.0,753.9 1431.5,752.4 1432.0,753.7 1432.5,752.3 1433.0,754.9 1433.5,753.3 1434.0,755.5 1434.5,752.5 1435.0,755.8 1435.5,753.8 1436.0,755.1 1436.5,754.1 1437.0,754.9 1437.5,754.5 1438.0,755.1 1438.5,753.8 1439.0,755.4 1439.5,753.2 1440.0,755.6 1440.5,753.4 1441.0,756.2 1441.5,754.1 1442.0,755.6 1442.5,754.4 1443.0,754.8 1443.5,753.5 1444.0,755.1 1444.5,753.8 1445.0,755.2 1445.5,754.4 1446.0,755.9 1446.5,753.1 1447.0,754.3 1447.5,753.5 1448.0,754.7 1448.5,752.6 1449.0,754.4 1449.5,752.7 1450.0,754.8 1450.5,752.6 1451.0,755.6 1451.5,754.7 1452.0,756.1 1452.5,754.0 1453.0,755.7 1453.5,753.6 1454.0,755.4 1454.5,754.0 1455.0,755.7 1455.5,753.1 1456.0,754.6 1456.5,753.0 1457.0,754.5 1457.5,753.2 1458.0,755.4 1458.5,752.3 1459.0,754.4 1459.5,753.1 1460.0,754.8 1460.5,753.5 1461.0,755.5 1461.5,753.0 1462.0,755.5 1462.5,754.3 1463.0,755.3 1463.5,753.3 1464.0,755.3 1464.5,753.8 1465.0,755.9 1465.5,754.8 1466.0,756.1 1466.5,753.8 1467.0,755.0 1467.5,753.7 1468.0,755.6 1468.5,754.2 1469.0,755.2 1469.5,752.7 1470.0,754.8 1470.5,754.0 1471.0,755.7 1471.5,754.2 1472.0,756.2 1472.5,754.3 1473.0,756.7 1473.5,753.9 1474.0,756.2 1474.5,754.5 1475.0,755.2 1475.5,754.3 1476.0,756.0 1476.5,753.6 1477.0,755.7 1477.5,753.4 1478.0,755.1 1478.5,754.5 1479.0,754.9 1479.5,753.5 1480.0,755.9 1480.5,754.7 1481.0,755.1 1481.5,753.7 1482.0,755.5 1482.5,753.3 1483.0,755.3 1483.5,754.0 1484.0,755.2 1484.5,752.7 1485.0,755.5 1485.5,753.8 1486.0,754.6 1486.5,753.0 1487.0,755.2 1487.5,754.2 1488.0,755.3 1488.5,752.9 1489.0,755.8 1489.5,752.8 1490.0,755.0 1490.5,753.8 1491.0,754.8 1491.5,753.7 1492.0,755.2 1492.5,753.5 1493.0,755.2 1493.5,752.2 1494.0,754.5 1494.5,753.3 1495.0,754.6 1495.5,752.9 1496.0,755.0 1496.5,753.7 1497.0,755.2 1497.5,753.5 1498.0,755.3 1498.5,752.6 1499.0,755.2 1499.5,752.7 1500.0,753.8 1500.5,752.4 1501.0,754.1 1501.5,751.9 1502.0,754.1 1502.5,751.5 1503.0,753.2 1503.5,751.5 1504.0,753.0 1504.5,750.6 1505.0,753.0 1505.5,751.6 1506.0,752.8 1506.5,751.1 1507.0,753.0 1507.5,750.7 1508.0,752.8 1508.5,750.7 1509.0,751.5 1509.5,750.5 1510.0,751.8 1510.5,749.6 1511.0,751.9 1511.5,749.4 1512.0,750.4 1512.5,747.2 1513.0,748.0 1513.5,745.7 1514.0,745.7 1514.5,742.7 1515.0,743.0 1515.5,738.5 1516.0,737.8 1516.5,732.6 1517.0,729.1 1517.5,719.8 1518.0,715.1 1518.5,707.6 1519.0,702.3 1519.5,695.7 1520.0,689.6 1520.5,681.8 1521.0,676.6 1521.5,666.5 1522.0,658.7 1522.5,647.9 1523.0,639.8 1523.5,630.0 1524.0,621.8 1524.5,615.5 1525.0,611.5 1525.5,608.4 1525.7,607.8 1526.0,608.9 1526.5,612.3 1527.0,616.5 1527.5,623.4 1528.0,631.8 1528.5,641.9 1529.0,649.9 1529.5,661.1 1530.0,668.7 1530.5,677.4 1531.0,683.1 1531.5,691.6 1532.0,695.6 1532.5,703.6 1533.0,708.3 1533.5,716.7 1534.0,722.9 1534.5,729.8 1535.0,734.1 1535.5,739.7 1536.0,740.7 1536.5,743.8 1537.0,744.4 1537.5,747.0 1538.0,746.0 1538.5,749.0 1539.0,748.6 1539.5,750.0 1540.0,749.2 1540.5,751.0 1541.0,750.7 1541.5,751.1 1542.0,749.8 1542.5,752.0 1543.0,750.0 1543.5,752.3 1544.0,751.3 1544.5,751.8 1545.0,750.2 1545.5,751.6 1546.0,750.9 1546.5,752.5 1547.0,751.0 1547.5,753.2 1548.0,751.2 1548.5,752.4 1549.0,752.0 1549.5,753.6 1550.0,752.2 1550.5,753.9 1551.0,751.6 1551.5,753.4 1552.0,751.8 1552.5,752.3 1553.0,751.5 1553.5,753.3 1554.0,751.3 1554.5,753.7 1555.0,752.0 1555.5,753.3 1556.0,751.5 1556.5,754.6 1557.0,753.5 1557.5,754.2 1558.0,752.1 1558.5,754.7 1559.0,753.2 1559.5,753.7 1560.0,752.7 1560.5,754.1 1561.0,753.4 1561.5,754.6 1562.0,753.2 1562.5,754.5 1563.0,752.9 1563.5,755.1 1564.0,752.6 1564.5,755.1 1565.0,753.3 1565.5,755.2 1566.0,753.2 1566.5,754.1 1567.0,753.3 1567.5,754.2 1568.0,753.7 1568.5,754.8 1569.0,753.7 1569.5,753.8 1570.0,752.2 1570.5,753.9 1571.0,753.0 1571.5,754.3 1572.0,753.2 1572.5,754.5 1573.0,753.4 1573.5,754.3 1574.0,753.4 1574.5,754.7 1575.0,753.2 1575.5,755.8 1576.0,753.3 1576.5,755.8 1577.0,752.9 1577.5,755.4 1578.0,754.1 1578.5,755.2 1579.0,753.6 1579.5,755.3 1580.0,753.2 1580.5,754.3 1581.0,753.5 1581.5,754.8 1582.0,753.3 1582.5,754.8 1583.0,753.6 1583.5,755.4 1584.0,754.2 1584.5,755.9 1585.0,753.6 1585.5,754.9 1586.0,752.6 1586.5,755.3 1587.0,753.2 1587.5,755.3 1588.0,753.7 1588.5,755.4 1589.0,752.3 1589.5,754.8 1590.0,752.2 1590.5,753.2 1591.0,752.1 1591.5,752.2 1592.0,750.1 1592.5,750.5 1593.0,748.3 1593.5,748.1 1594.0,746.0 1594.5,746.9 1595.0,743.2 1595.5,743.7 1596.0,740.6 1596.5,741.1 1597.0,737.4 1597.5,737.0 1598.0,735.6 1598.5,736.2 1599.0,733.3 1599.5,735.2 1599.8,732.6 1600.0,733.7 1600.5,732.9 1601.0,735.9 1601.5,734.1 1602.0,736.3 1602.5,736.4 1603.0,739.5 1603.5,739.1 1604.0,741.8 1604.5,742.1 1605.0,745.3 1605.5,745.2 1606.0,747.3 1606.5,747.4 1607.0,749.8 1607.5,748.6 1608.0,751.4 1608.5,750.1 1609.0,752.8 1609.5,751.4 1610.0,752.9 1610.5,751.8 1611.0,752.6 1611.5,752.2 1612.0,752.4 1612.5,752.0 1613.0,753.5 1613.5,751.3 1614.0,752.4 1614.5,751.2 1615.0,753.2 1615.5,751.4 1616.0,752.2 1616.5,750.8 1617.0,751.7 1617.5,750.4 1618.0,752.3 1618.5,750.9 1619.0,751.6 1619.5,750.7 1620.0,751.0 1620.5,749.4 1621.0,750.9 1621.5,747.9 1622.0,749.2 1622.5,747.2 1623.0,747.2 1623.5,744.6 1624.0,745.1 1624.5,742.5 1625.0,742.8 1625.5,737.7 1626.0,736.4 1626.5,729.7 1627.0,726.3 1627.5,719.5 1628.0,716.1 1628.5,709.1 1629.0,706.1 1629.5,698.2 1630.0,694.2 1630.5,687.6 1631.0,681.9 1631.5,672.9 1632.0,667.0 1632.5,659.2 1633.0,652.8 1633.5,647.4 1634.0,644.1 1634.5,641.6 1634.8,640.7 1635.0,641.2 1635.5,643.5 1636.0,646.6 1636.5,651.4 1637.0,657.5 1637.5,664.7 1638.0,671.5 1638.5,679.6 1639.0,685.1 1639.5,693.1 1640.0,696.2 1640.5,703.3 1641.0,706.6 1641.5,712.7 1642.0,716.5 1642.5,724.1 1643.0,726.9 1643.5,732.8 1644.0,736.4 1644.5,740.0 1645.0,741.3 1645.5,742.8 1646.0,742.2 1646.5,745.0 1647.0,743.3 1647.5,746.7 1648.0,744.9 1648.5,745.6 1649.0,744.6 1649.5,744.7 1650.0,741.6 1650.5,739.6 1651.0,735.8 1651.5,735.0 1652.0,730.5 1652.5,730.6 1653.0,725.6 1653.5,724.6 1654.0,720.4 1654.5,718.8 1655.0,714.2 1655.5,711.4 1656.0,706.6 1656.5,704.0 1657.0,700.1 1657.5,697.7 1658.0,695.4 1658.5,694.1 1658.9,693.5 1659.0,693.6 1659.5,694.7 1660.0,696.6 1660.5,698.6 1661.0,702.4 1661.5,705.6 1662.0,709.7 1662.5,712.5 1663.0,718.5 1663.5,719.4 1664.0,724.1 1664.5,726.3 1665.0,730.4 1665.5,731.7 1666.0,735.9 1666.5,736.0 1667.0,741.3 1667.5,742.3 1668.0,745.6 1668.5,746.5 1669.0,749.5 1669.5,747.6 1670.0,750.0 1670.5,749.4 1671.0,751.1 1671.5,750.2 1672.0,751.6 1672.5,751.4 1673.0,752.7 1673.5,750.7 1674.0,753.0 1674.5,751.5 1675.0,753.3 1675.5,752.5 1676.0,753.6 1676.5,752.8 1677.0,754.2 1677.5,752.6 1678.0,753.5 1678.5,752.9 1679.0,754.5 1679.5,753.0 1680.0,753.8 1680.5,752.6 1681.0,754.4 1681.5,752.5 1682.0,754.4 1682.5,752.6 1683.0,753.9 1683.5,753.2 1684.0,755.0 1684.5,752.4 1685.0,753.6 1685.5,753.3 1686.0,754.9 1686.5,752.8 1687.0,754.3 1687.5,752.3 1688.0,754.1 1688.5,753.5 1689.0,754.9 1689.5,753.5 1690.0,754.6 1690.5,753.5 1691.0,754.2 1691.5,753.3 1692.0,754.9 1692.5,753.7 1693.0,755.1 1693.5,753.2 1694.0,755.7 1694.5,753.1 1695.0,755.6 1695.5,752.9 1696.0,755.8 1696.5,753.3 1697.0,755.4 1697.5,754.4 1698.0,756.0 1698.5,754.3 1699.0,755.8 1699.5,753.8 1700.0,756.3 1700.5,755.2 1701.0,756.1 1701.5,754.3 1702.0,755.6 1702.5,754.7 1703.0,755.6 1703.5,754.4 1704.0,754.8 1704.5,753.5 1705.0,754.4 1705.5,753.3 1706.0,754.8 1706.5,754.4 1707.0,754.8 1707.5,754.2 1708.0,754.9 1708.5,754.3 1709.0,755.8 1709.5,754.5 1710.0,755.9 1710.5,754.5 1711.0,755.7 1711.5,753.3 1712.0,754.8 1712.5,753.4 1713.0,755.5 1713.5,754.2 1714.0,755.2 1714.5,753.7 1715.0,755.0 1715.5,753.6 1716.0,756.3 1716.5,754.1 1717.0,755.4 1717.5,754.1 1718.0,756.4 1718.5,753.9 1719.0,755.6 1719.5,754.9 1720.0,755.4 1720.5,754.2 1721.0,756.6 1721.5,753.7 1722.0,756.0 1722.5,753.6 1723.0,756.0 1723.5,754.7 1724.0,756.1 1724.5,753.2 1725.0,754.2 1725.5,753.5 1726.0,753.9 1726.5,752.8 1727.0,753.6 1727.5,751.7 1728.0,753.0 1728.5,751.1 1729.0,750.9 1729.5,749.4 1730.0,749.7 1730.5,747.3 1731.0,748.5 1731.5,746.5 1732.0,747.4 1732.5,746.6 1733.0,747.8 1733.5,746.4 1734.0,747.2 1734.5,746.9 1735.0,748.7 1735.5,747.8 1736.0,749.6 1736.5,748.1 1737.0,749.7 1737.5,748.4 1738.0,752.1 1738.5,750.3 1739.0,752.6 1739.5,752.0 1740.0,752.7 1740.5,752.6 1741.0,754.2 1741.5,753.1 1742.0,754.4 1742.5,753.9 1743.0,754.7 1743.5,754.3 1744.0,756.5 1744.5,754.0 1745.0,757.0 1745.5,754.6 1746.0,757.0 1746.5,755.7 1747.0,757.0 1747.5,755.7 1748.0,756.6 1748.5,755.0 1749.0,757.2 1749.5,755.9 1750.0,757.6 1750.5,755.9 1751.0,757.0 1751.5,755.0 1752.0,756.6 1752.5,755.6 1753.0,756.7 1753.5,755.5 1754.0,757.2 1754.5,754.8 1755.0,755.9 1755.5,754.6 1756.0,756.2 1756.5,755.0 1757.0,755.4 1757.5,755.0 1758.0,755.9 1758.5,755.4 1759.0,757.4 1759.5,755.5 1760.0,756.7 1760.5,755.1 1761.0,757.6 1761.5,755.7 1762.0,756.9 1762.5,755.2 1763.0,756.6 1763.5,754.1 1764.0,756.4 1764.5,754.8 1765.0,756.2 1765.5,754.0 1766.0,756.0 1766.5,754.5 1767.0,756.7 1767.5,755.2 1768.0,755.2 1768.5,753.7 1769.0,756.1 1769.5,754.8 1770.0,756.3 1770.5,754.8 1771.0,755.4 1771.5,753.7 1772.0,756.1 1772.5,755.6 1773.0,756.7 1773.5,755.4 1774.0,757.5 1774.5,755.4 1775.0,756.6 1775.5,755.8 1776.0,756.4 1776.5,755.5 1777.0,756.7 1777.5,755.2 1778.0,756.6 1778.5,754.1 1779.0,755.5 1779.5,754.3 1780.0,756.2 1780.5,755.3 1781.0,756.4 1781.5,754.1 1782.0,756.5 1782.5,754.9 1783.0,755.9 1783.5,755.5 1784.0,756.0 1784.5,755.6 1785.0,756.3 1785.5,755.2 1786.0,757.2 1786.5,755.3"/>
<polyline class="cv" stroke-width="5.8" points="325.0,1050.0 326.6,1054.4 328.2,1053.6 329.8,1045.9 331.4,1045.3 333.0,1039.4 334.6,1045.1 336.2,1046.7 337.8,1050.2 339.4,1053.8 341.0,1047.1 342.6,1063.4 344.2,1048.4 345.8,1051.2 347.4,1051.6 349.0,1050.3 350.6,1046.9 352.2,1034.5 353.8,1039.2 355.4,1043.3 357.0,1035.0 358.6,1032.1 360.2,1025.0 361.8,1035.8 363.4,1032.6 365.0,1026.8 366.6,1028.9 368.2,1028.4 369.8,1024.0 371.4,1026.5 373.0,1027.2 374.6,1027.0 376.2,1028.3 377.8,1022.3 379.4,1019.1 381.0,1021.0 382.6,1015.7 384.2,1011.9 385.8,1019.7 387.4,1011.7 389.0,1011.3 390.6,1010.9 392.2,1001.6 393.8,1006.1 395.4,1001.8 397.0,995.3 398.6,993.0 400.2,984.1 401.8,979.6 403.4,989.9 405.0,990.0 406.6,999.8 408.2,997.6 409.8,994.3 411.4,996.7 413.0,1002.1 414.6,1001.2 416.2,998.0 417.8,998.3 419.4,995.3 421.0,995.9 422.6,999.0 424.2,996.0 425.8,997.7 427.4,991.7 429.0,989.3 430.6,989.2 432.2,993.5 433.8,999.3 435.4,996.8 437.0,985.4 438.6,981.1 440.2,989.5 441.8,986.2 443.4,976.2 445.0,984.5 446.6,978.0 448.2,980.6 449.8,973.6 451.4,973.6 453.0,968.4 454.6,960.8 456.2,963.2 457.8,960.1 459.4,966.3 461.0,956.6 462.6,953.1 464.2,962.9 465.8,965.2 467.4,966.7 469.0,965.0 470.6,952.0 472.2,956.0 473.8,956.8 475.4,957.8 477.0,944.2 478.6,952.8 480.2,951.7 481.8,942.6 483.4,945.7 485.0,948.9 486.6,939.8 488.2,942.5 489.8,939.4 491.4,933.2 493.0,930.2 494.6,923.1 496.2,930.2 497.8,918.5 499.4,915.3 501.0,925.1 502.6,920.6 504.2,931.2 505.8,937.4 507.4,932.3 509.0,933.1 510.6,938.6 512.2,938.3 513.8,924.9 515.4,926.9 517.0,944.5 518.6,939.8 520.2,925.4 521.8,931.3 523.4,941.1 525.0,932.7 526.6,939.2 528.2,934.2 529.8,934.2 531.4,921.2 533.0,929.9 534.6,937.2 536.2,920.1 537.8,933.7 539.4,931.9 541.0,930.0 542.6,925.8 544.2,919.2 545.8,921.2 547.4,931.2 549.0,931.9 550.6,932.8 552.2,930.5 553.8,929.5 555.4,920.4 557.0,916.0 558.6,927.3 560.2,931.6 561.8,931.4 563.4,923.7 565.0,931.1 566.6,922.2 568.2,929.5 569.8,919.1 571.4,921.8 573.0,922.0 574.6,918.0 576.2,924.5 577.8,908.2 579.4,900.6 581.0,919.5 582.6,921.6 584.2,921.0 585.8,913.0 587.4,914.1 589.0,913.0 590.6,905.7 592.2,911.9 593.8,920.2 595.4,915.0 597.0,932.3 598.6,912.2 600.2,918.7 601.8,925.2 603.4,911.2 605.0,904.7 606.6,900.0 608.2,901.5 609.8,914.6 611.4,906.7 613.0,906.4 614.6,898.9 616.2,906.6 617.8,900.9 619.4,892.6 621.0,893.7 622.6,895.9 624.2,900.1 625.8,890.4 627.4,892.0 629.0,900.2 630.6,881.7 632.2,878.1 633.8,891.3 635.4,887.0 637.0,882.9 638.6,884.3 640.2,879.8 641.8,884.3 643.4,878.2 645.0,884.5 646.6,871.3 648.2,872.8 649.8,877.8 651.4,873.4 653.0,879.9 654.6,874.2 656.2,869.9 657.8,873.6 659.4,867.9 661.0,860.4 662.6,861.9 664.2,863.0 665.8,865.4 667.4,871.1 669.0,878.4 670.6,878.3 672.2,888.1 673.8,887.1 675.4,880.0 677.0,893.7 678.6,889.5 680.2,876.8 681.8,879.2 683.4,881.8 685.0,874.0 686.6,876.5 688.2,870.2 689.8,872.9 691.4,872.4 693.0,882.8 694.6,883.3 696.2,889.1 697.8,873.4 699.4,885.3 701.0,890.3 702.6,885.2 704.2,897.8 705.8,904.7 707.4,895.1 709.0,894.3 710.6,896.3 712.2,896.6 713.8,902.5 715.4,892.4 717.0,910.5 718.6,901.2 720.2,911.6 721.8,916.0 723.4,923.1 725.0,912.1 726.6,902.6 728.2,917.9 729.8,915.0 731.4,908.4 733.0,908.4 734.6,910.3 736.2,912.7 737.8,911.6 739.4,894.3 741.0,915.4 742.6,907.4 744.2,911.2 745.8,922.8 747.4,922.7 749.0,939.0 750.6,934.9 752.2,929.5 753.8,932.6 755.4,933.2 757.0,935.3 758.6,942.3 760.2,935.9 761.8,950.1 763.4,941.9 765.0,943.1 766.6,951.0 768.2,935.9 769.8,943.4 771.4,955.9 773.0,957.4 774.6,959.7 776.2,947.7 777.8,934.3 779.4,947.9 781.0,952.5 782.6,947.3 784.2,956.3 785.8,945.8 787.4,952.2 789.0,969.0 790.6,969.1 792.2,960.1 793.8,959.7 795.4,961.8 797.0,956.8 798.6,964.6 800.2,965.7 801.8,970.2 803.4,978.1 805.0,982.4 806.6,991.2 808.2,986.6 809.8,966.7 811.4,977.8 813.0,964.3 814.6,966.5 816.2,983.0 817.8,980.9 819.4,988.2 821.0,993.2 822.6,981.5 824.2,977.6 825.8,982.0 827.4,989.8 829.0,989.4 830.6,981.9 832.2,988.3 833.8,988.0 835.4,995.8 837.0,987.7 838.6,984.6 840.2,983.2 841.8,971.7 843.4,971.0 845.0,966.6 846.6,952.2 848.2,932.3 849.8,910.3 851.4,894.7 853.0,888.3 855.0,877.2 857.8,894.2 859.4,905.4 861.0,924.6 862.6,952.5 864.2,976.0 865.8,991.0 867.4,1001.6 869.0,993.9 870.6,993.5 872.2,1001.2 873.8,992.5 875.4,999.3 877.0,1001.7 878.6,1001.8 880.2,1010.2 881.8,1001.0 883.4,994.5 885.0,994.1 886.6,1003.3 888.2,1012.0 889.8,1010.2 891.4,1022.1 893.0,1021.8 894.6,1019.5 896.2,1011.4 897.8,1005.7 899.4,1003.5 901.0,1007.1 902.6,1002.3 904.2,983.9 905.8,976.9 907.4,966.7 909.0,958.4 911.0,959.0 913.8,961.5 915.4,973.7 917.0,988.5 918.6,1004.4 920.2,1008.2 921.8,1003.6 923.4,1007.5 925.0,1000.7 926.6,1014.6 928.2,1011.6 929.8,1017.6 931.4,1014.6 933.0,1019.0 934.6,1018.1 936.2,1017.1 937.8,1004.4 939.4,1005.5 941.0,990.8 942.6,978.1 944.2,968.8 945.8,951.4 947.4,935.8 949.0,919.9 951.2,898.7 953.8,930.4 955.4,948.8 957.0,968.6 958.6,990.2 960.2,1004.7 961.8,1009.7 963.4,1024.0 965.0,1023.5 966.6,1020.7 968.2,1028.9 969.8,1024.0 971.4,1030.8 973.0,1034.9 974.6,1033.8 976.2,1039.7 977.8,1054.8 979.4,1041.5 981.0,1029.6 982.6,1019.7 984.2,1023.6 985.8,1031.1 987.4,1040.3 989.0,1037.0 990.6,1053.1 992.2,1040.4 993.8,1037.2 995.4,1040.2 997.0,1038.3 998.6,1035.1 1000.2,1042.2 1001.8,1038.8 1003.4,1042.0 1005.0,1037.8 1006.6,1036.8 1008.2,1037.7 1009.8,1035.6 1011.4,1039.3 1013.0,1044.4 1014.6,1044.0 1016.2,1044.8 1017.8,1049.2 1019.4,1057.1 1021.0,1051.6 1022.6,1052.5 1024.2,1051.1 1025.8,1052.3 1027.4,1052.9 1029.0,1051.7 1030.6,1052.5 1032.2,1051.9 1033.8,1053.0 1035.4,1058.3 1037.0,1060.7 1038.6,1062.6 1040.2,1061.2 1041.8,1058.9 1043.4,1062.4 1045.0,1061.6 1046.6,1054.5 1048.2,1060.5 1049.8,1059.4 1051.4,1062.8 1053.0,1055.2 1054.6,1055.1 1056.2,1061.2 1057.8,1054.4 1059.4,1057.7 1061.0,1058.1 1062.6,1059.7 1064.2,1058.8 1065.8,1064.6 1067.4,1069.1 1069.0,1067.8 1070.6,1066.6 1072.2,1063.3 1073.8,1066.4 1075.4,1062.9 1077.0,1062.9 1078.6,1055.5 1080.2,1060.3 1081.8,1057.1 1083.4,1060.8 1085.0,1060.7 1086.6,1058.1 1088.2,1061.2 1089.8,1063.5 1091.4,1057.6 1093.0,1045.2 1094.6,1030.3 1096.2,1009.9 1097.8,984.0 1099.4,953.7 1102.0,923.0 1104.2,946.6 1105.8,969.1 1107.4,997.0 1109.0,1026.4 1110.6,1048.0 1112.2,1057.3 1113.8,1063.8 1115.4,1065.7 1117.0,1071.2 1118.6,1068.6 1120.2,1067.0 1121.8,1069.9 1123.4,1081.4 1125.0,1081.7 1126.6,1083.7 1128.2,1081.7 1129.8,1082.5 1131.4,1080.5 1133.0,1078.7 1134.6,1080.2 1136.2,1079.3 1137.8,1080.8 1139.4,1078.7 1141.0,1082.2 1142.6,1072.1 1144.2,1066.7 1145.8,1063.2 1147.4,1069.3 1149.0,1073.9 1150.6,1077.6 1152.2,1076.4 1153.8,1071.5 1155.4,1071.8 1157.0,1077.8 1158.6,1078.1 1160.2,1080.2 1161.8,1080.3 1163.4,1075.5 1165.0,1073.3 1166.6,1081.9 1168.2,1083.2 1169.8,1082.3 1171.4,1079.1 1173.0,1081.5 1174.6,1076.6 1176.2,1076.4 1177.8,1075.8 1179.4,1074.3 1181.0,1074.4 1182.6,1073.6 1184.2,1070.1 1185.8,1070.4 1187.4,1064.9 1189.0,1063.7 1190.6,1065.4 1192.2,1064.4 1193.8,1067.6 1195.4,1066.8 1197.0,1068.7 1198.6,1073.0 1200.2,1078.2 1201.8,1081.8 1203.4,1084.7 1205.0,1088.2 1206.6,1088.3 1208.2,1083.9 1209.8,1082.1 1211.4,1079.9 1213.0,1075.1 1214.6,1073.0 1216.2,1076.8 1217.8,1077.2 1219.4,1077.7 1221.0,1080.7 1222.6,1081.3 1224.2,1083.5 1225.8,1089.0 1227.4,1088.1 1229.0,1087.1 1230.6,1081.7 1232.2,1088.1 1233.8,1092.6 1235.4,1087.7 1237.0,1083.2 1238.6,1090.0 1240.2,1087.1 1241.8,1082.3 1243.4,1078.3 1245.0,1074.3 1246.6,1066.5 1248.2,1062.6 1249.8,1056.9 1251.4,1049.4 1254.5,1036.7 1256.2,1046.0 1257.8,1055.0 1259.4,1063.6 1261.0,1068.5 1262.6,1077.3 1264.2,1082.0 1265.8,1085.5 1267.4,1087.7 1269.0,1083.4 1270.6,1081.6 1272.2,1079.7 1273.8,1078.9 1275.4,1080.7 1277.0,1084.9 1278.6,1087.2 1280.2,1085.3 1281.8,1088.3 1283.4,1086.1 1285.0,1088.2 1286.6,1082.3 1288.2,1072.9 1289.8,1076.7 1291.4,1082.5 1293.0,1084.5 1294.6,1085.9 1296.2,1086.9 1297.8,1089.7 1299.4,1090.2 1301.0,1092.4 1302.6,1091.4 1304.2,1094.2 1305.8,1090.6 1307.4,1087.6 1309.0,1086.3 1310.6,1087.1 1312.2,1087.9 1313.8,1088.2 1315.4,1092.8 1317.0,1095.7 1318.6,1094.8 1320.2,1087.6 1321.8,1088.9 1323.4,1088.3 1325.0,1088.6 1326.6,1098.9 1328.2,1097.5 1329.8,1094.9 1331.4,1093.7 1333.0,1089.7 1334.6,1089.2 1336.2,1087.9 1337.8,1089.1 1339.4,1084.1 1341.0,1087.2 1342.6,1091.2 1344.2,1092.6 1345.8,1095.3 1347.4,1093.2 1349.0,1094.7 1350.6,1095.4 1352.2,1097.3 1353.8,1095.6 1355.4,1098.2 1357.0,1097.8 1358.6,1099.5 1360.2,1103.2 1361.8,1103.4 1363.4,1103.1 1365.0,1097.6 1366.6,1095.1 1368.2,1093.0 1369.8,1090.2 1371.4,1095.8 1373.0,1095.6 1374.6,1097.4 1376.2,1097.0 1377.8,1092.3 1379.4,1084.2 1381.0,1079.0 1382.6,1076.3 1384.2,1074.1 1387.2,1068.5 1389.0,1070.4 1390.6,1071.6 1392.2,1072.2 1393.8,1078.0 1395.4,1082.0 1397.0,1086.5 1398.6,1092.2 1400.2,1093.2 1401.8,1096.4 1403.4,1096.7 1405.0,1102.7 1406.6,1100.3 1408.2,1097.8 1409.8,1097.8 1411.4,1095.3 1413.0,1097.3 1414.6,1102.2 1416.2,1101.8 1417.8,1101.9 1419.4,1100.3 1421.0,1098.9 1422.6,1096.9 1424.2,1100.4 1425.8,1098.4 1427.4,1100.9 1429.0,1100.9 1430.6,1100.7 1432.2,1097.6 1433.8,1098.1 1435.4,1102.7 1437.0,1102.5 1438.6,1100.7 1440.2,1102.7 1441.8,1104.9 1443.4,1104.0 1445.0,1108.6 1446.6,1103.6 1448.2,1102.9 1449.8,1098.9 1451.4,1103.7 1453.0,1100.6 1454.6,1101.9 1456.2,1098.7 1457.8,1101.1 1459.4,1101.3 1461.0,1102.0 1462.6,1105.1 1464.2,1105.9 1465.8,1105.2 1467.4,1103.0 1469.0,1104.7 1470.6,1105.2 1472.2,1104.0 1473.8,1103.9 1475.4,1103.7 1477.0,1101.6 1478.6,1103.1 1480.2,1104.9 1481.8,1101.5 1483.4,1103.6 1485.0,1105.3 1486.6,1102.9 1488.2,1105.2 1489.8,1103.6 1491.4,1105.7 1493.0,1105.2 1494.6,1106.2 1496.2,1105.0 1497.8,1103.5 1499.4,1101.8 1501.0,1097.0 1502.6,1100.7 1504.2,1097.7 1505.8,1098.5 1507.4,1101.0 1509.0,1104.2 1510.6,1102.1 1512.2,1100.8 1513.8,1098.7 1515.4,1098.0 1517.0,1094.1 1518.6,1093.7 1520.2,1091.8 1521.8,1090.9 1523.4,1092.6 1525.0,1090.7 1526.6,1088.9 1528.2,1090.7 1529.8,1095.3 1531.4,1099.8 1533.0,1105.0 1534.6,1108.1 1536.2,1104.2 1537.8,1103.6 1539.4,1103.5 1541.0,1107.8 1542.6,1108.0 1544.2,1109.2 1545.8,1107.9 1547.4,1108.7 1549.0,1107.4 1550.6,1102.6 1552.2,1102.2 1553.8,1103.5 1555.4,1104.0 1557.0,1100.8 1558.6,1102.0 1560.2,1103.7 1561.8,1103.1 1563.4,1105.8 1565.0,1108.2 1566.6,1108.7 1568.2,1109.4 1569.8,1108.6 1571.4,1105.1 1573.0,1106.0 1574.6,1108.6 1576.2,1109.2 1577.8,1112.1 1579.4,1111.9 1581.0,1113.2 1582.6,1108.6 1584.2,1110.7 1585.8,1106.3 1587.4,1107.5 1589.0,1108.9 1590.6,1109.7 1592.2,1108.7 1593.8,1107.5 1595.4,1107.1 1597.0,1107.5 1598.6,1106.9 1600.2,1104.4 1601.8,1105.6 1603.4,1101.6 1605.0,1101.6 1606.6,1102.1 1608.2,1105.0 1609.8,1102.8 1611.4,1103.6 1613.0,1107.9 1614.6,1108.9 1616.2,1107.8 1617.8,1103.3 1619.4,1104.7 1621.0,1105.2 1622.6,1103.5 1624.2,1100.6 1625.8,1096.8 1627.4,1090.4 1629.0,1089.7 1630.6,1092.9 1632.2,1089.6 1633.8,1088.4 1635.4,1091.8 1637.0,1097.8 1638.6,1099.8 1640.2,1101.5 1641.8,1098.9 1643.4,1098.5 1645.0,1098.1 1646.6,1095.4 1648.2,1094.7 1649.8,1097.0 1651.4,1099.0 1653.0,1101.0 1654.6,1100.9 1656.2,1100.2 1657.8,1100.3 1659.4,1097.8 1661.0,1101.3 1662.6,1105.3 1664.2,1106.4 1665.8,1108.9 1667.4,1110.2 1669.0,1109.3 1670.6,1108.6 1672.2,1108.0 1673.8,1107.1 1675.4,1106.4 1677.0,1108.8 1678.6,1109.4 1680.2,1106.4 1681.8,1108.3 1683.4,1109.4 1685.0,1109.2 1686.6,1109.4 1688.2,1110.6 1689.8,1109.1 1691.4,1112.3 1693.0,1112.1 1694.6,1114.6 1696.2,1112.4 1697.8,1110.0 1699.4,1109.8 1701.0,1111.4 1702.6,1110.6 1704.2,1108.1 1705.8,1108.1 1707.4,1107.2 1709.0,1109.4 1710.6,1110.5 1712.2,1110.5 1713.8,1113.8 1715.4,1108.5 1717.0,1110.3 1718.6,1110.6 1720.2,1110.1 1721.8,1111.3 1723.4,1106.9 1725.0,1108.0 1726.6,1109.4 1728.2,1109.7 1729.8,1109.3 1731.4,1109.1 1733.0,1111.8 1734.6,1109.3 1736.2,1110.3 1737.8,1113.6 1739.4,1114.7 1741.0,1114.2 1742.6,1112.5 1744.2,1113.2 1745.8,1113.5 1747.4,1111.6 1749.0,1110.9 1750.6,1111.5 1752.2,1108.6 1753.8,1105.7 1755.4,1105.0 1757.0,1103.9 1758.6,1106.3 1760.2,1101.5 1761.8,1103.8 1763.4,1101.7 1765.0,1102.6 1766.6,1102.4 1768.2,1106.0 1769.8,1105.1 1771.4,1110.7 1773.0,1109.0 1774.6,1110.8 1776.2,1111.7 1777.8,1110.4 1779.4,1108.6 1781.0,1106.3 1782.6,1110.8 1784.2,1109.7 1785.8,1109.5 1787.4,1109.5 1789.0,1112.5 1790.6,1111.5 1792.2,1111.4 1793.8,1110.1 1795.4,1111.1 1797.0,1108.0 1798.6,1110.8 1800.2,1115.9 1801.8,1116.4 1803.4,1114.2 1805.0,1112.1 1806.6,1111.8 1808.2,1107.9 1809.8,1110.3 1811.4,1113.9 1813.0,1109.7 1814.6,1105.8 1816.2,1104.6 1817.8,1108.6 1819.4,1105.9 1821.0,1103.4 1822.6,1102.5 1824.2,1104.6 1825.8,1110.3 1827.4,1109.5 1829.0,1113.3 1830.6,1110.2 1832.2,1111.2 1833.8,1111.9 1835.4,1111.5 1837.0,1114.0 1838.6,1113.6 1840.2,1112.0 1841.8,1113.8 1843.4,1111.0 1845.0,1111.5 1846.6,1112.9 1848.2,1113.3 1849.8,1114.8 1851.4,1116.0 1853.0,1115.8 1854.6,1114.3 1856.2,1111.0 1857.8,1112.4 1859.4,1110.0 1861.0,1111.0 1862.6,1113.1 1864.2,1114.9 1865.8,1113.8 1867.4,1111.7 1869.0,1112.0 1870.6,1113.7 1872.2,1116.0 1873.8,1116.7 1875.4,1115.6 1877.0,1115.6 1878.6,1117.0 1880.2,1112.7 1881.8,1115.3 1883.4,1114.1 1885.0,1118.1 1886.6,1113.8 1888.2,1112.4 1889.8,1113.6 1891.4,1117.5 1893.0,1118.9 1894.6,1120.3"/>
<polyline class="cv" stroke-width="6.6" points="325.0,1271.4 326.4,1283.2 327.8,1270.3 329.2,1275.9 330.6,1277.0 332.0,1280.1 333.4,1274.9 334.8,1280.9 336.2,1264.7 337.6,1272.8 339.0,1261.9 340.4,1268.2 341.8,1267.3 343.2,1258.6 344.6,1245.0 346.0,1272.7 347.4,1267.6 348.8,1265.5 350.2,1258.4 351.6,1260.8 353.0,1265.9 354.4,1261.3 355.8,1269.2 357.2,1259.8 358.6,1251.2 360.0,1261.5 361.4,1250.5 362.8,1256.3 364.2,1239.2 365.6,1249.9 367.0,1256.2 368.4,1245.6 369.8,1249.6 371.2,1253.6 372.6,1248.5 374.0,1261.3 375.4,1244.0 376.8,1243.7 378.2,1242.9 379.6,1227.4 381.0,1230.1 382.4,1245.7 383.8,1237.9 385.2,1250.7 386.6,1238.0 388.0,1236.1 389.4,1244.6 390.8,1237.4 392.2,1247.0 393.6,1224.4 395.0,1235.4 396.4,1236.2 397.8,1232.4 399.2,1234.5 400.6,1230.7 402.0,1219.9 403.4,1212.3 404.8,1222.5 406.2,1215.5 407.6,1223.5 409.0,1227.3 410.4,1218.5 411.8,1210.1 413.2,1216.0 414.6,1225.1 416.0,1216.3 417.4,1227.2 418.8,1217.2 420.2,1217.3 421.6,1210.5 423.0,1214.1 424.4,1222.8 425.8,1209.9 427.2,1208.8 428.6,1204.0 430.0,1215.7 431.4,1195.6 432.8,1201.6 434.2,1212.9 435.6,1215.5 437.0,1200.2 438.4,1208.3 439.8,1182.4 441.2,1203.3 442.6,1197.7 444.0,1183.9 445.4,1178.7 446.8,1188.6 448.2,1194.4 449.6,1194.7 451.0,1192.0 452.4,1197.0 453.8,1195.9 455.2,1177.2 456.6,1184.5 458.0,1182.3 459.4,1194.3 460.8,1180.2 462.2,1191.9 463.6,1183.0 465.0,1201.0 466.4,1178.6 467.8,1177.4 469.2,1174.7 470.6,1175.3 472.0,1193.8 473.4,1166.2 474.8,1161.1 476.2,1165.2 477.6,1171.0 479.0,1154.1 480.4,1168.2 481.8,1165.9 483.2,1155.5 484.6,1152.7 486.0,1147.1 487.4,1151.1 488.8,1145.5 490.2,1163.8 491.6,1166.7 493.0,1147.8 494.4,1146.9 495.8,1126.2 497.2,1136.0 498.6,1141.1 500.0,1137.3 501.4,1132.5 502.8,1135.6 504.2,1124.5 505.6,1116.0 507.0,1131.5 508.4,1093.3 509.8,1097.7 511.2,1099.9 512.6,1098.1 514.0,1095.8 515.4,1099.3 516.8,1095.3 518.2,1102.6 519.6,1109.9 521.0,1105.1 522.4,1107.0 523.8,1097.0 525.2,1095.8 526.6,1103.7 528.0,1115.1 529.4,1108.3 530.8,1114.5 532.2,1112.4 533.6,1112.6 535.0,1091.4 536.4,1111.6 537.8,1105.2 539.2,1117.7 540.6,1100.8 542.0,1096.6 543.4,1090.5 544.8,1092.2 546.2,1071.7 547.6,1086.2 549.0,1088.2 550.4,1098.8 551.8,1081.1 553.2,1089.2 554.6,1106.8 556.0,1081.6 557.4,1095.9 558.8,1081.2 560.2,1085.7 561.6,1091.5 563.0,1095.8 564.4,1081.1 565.8,1075.3 567.2,1101.7 568.6,1086.2 570.0,1091.3 571.4,1091.2 572.8,1088.2 574.2,1076.0 575.6,1076.0 577.0,1059.5 578.4,1077.3 579.8,1069.6 581.2,1073.6 582.6,1093.0 584.0,1079.7 585.4,1072.2 586.8,1056.4 588.2,1078.2 589.6,1086.3 591.0,1060.9 592.4,1073.9 593.8,1063.5 595.2,1067.1 596.6,1064.4 598.0,1050.4 599.4,1060.9 600.8,1047.9 602.2,1078.7 603.6,1073.9 605.0,1062.0 606.4,1063.2 607.8,1059.5 609.2,1057.7 610.6,1054.3 612.0,1046.3 613.4,1043.8 614.8,1027.8 616.2,1028.8 617.6,1032.6 619.0,1040.8 620.4,1034.1 621.8,1058.1 623.2,1035.2 624.6,1032.9 626.0,1040.9 627.4,1046.9 628.8,1055.1 630.2,1044.8 631.6,1027.2 633.0,1030.8 634.4,1043.2 635.8,1033.8 637.2,1038.8 638.6,1028.4 640.0,1043.7 641.4,1039.2 642.8,1032.9 644.2,1019.7 645.6,997.8 647.0,997.8 648.4,1013.1 649.8,1013.6 651.2,971.9 652.6,995.1 654.0,1009.5 655.4,1004.3 656.8,985.4 658.2,996.2 659.6,988.2 661.0,984.2 662.4,997.2 663.8,996.0 665.2,976.7 666.6,971.3 668.0,966.6 669.4,964.5 670.8,993.4 672.2,998.4 673.6,979.6 675.0,987.9 676.4,968.2 677.8,973.7 679.2,983.3 680.6,975.8 682.0,970.9 683.4,952.3 684.8,955.6 686.2,968.1 687.6,967.9 689.0,972.3 690.4,963.9 691.8,966.1 693.2,966.7 694.6,969.3 696.0,965.5 697.4,964.3 698.8,972.6 700.2,990.8 701.6,982.0 703.0,976.3 704.4,978.4 705.8,994.8 707.2,1000.2 708.6,1009.9 710.0,995.8 711.4,1016.9 712.8,1001.6 714.2,1006.1 715.6,1005.8 717.0,1020.7 718.4,1028.3 719.8,1018.7 721.2,1015.6 722.6,1006.4 724.0,1026.4 725.4,1023.1 726.8,1026.6 728.2,1024.6 729.6,1024.9 731.0,1032.4 732.4,1044.3 733.8,1052.4 735.2,1045.1 736.6,1052.0 738.0,1050.1 739.4,1054.3 740.8,1045.1 742.2,1071.6 743.6,1072.2 745.0,1083.7 746.4,1065.5 747.8,1075.7 749.2,1067.9 750.6,1078.5 752.0,1071.7 753.4,1076.4 754.8,1065.0 756.2,1075.5 757.6,1067.5 759.0,1081.3 760.4,1075.7 761.8,1077.6 763.2,1085.6 764.6,1091.1 766.0,1076.7 767.4,1078.6 768.8,1097.4 770.2,1096.7 771.6,1079.5 773.0,1084.3 774.4,1094.9 775.8,1106.9 777.2,1107.5 778.6,1116.7 780.0,1120.0 781.4,1132.9 782.8,1099.1 784.2,1113.9 785.6,1125.9 787.0,1106.2 788.4,1106.6 789.8,1123.0 791.2,1132.9 792.6,1135.9 794.0,1110.1 795.4,1117.0 796.8,1128.8 798.2,1126.1 799.6,1134.9 801.0,1134.3 802.4,1149.9 803.8,1134.9 805.2,1138.2 806.6,1138.4 808.0,1148.2 809.4,1129.7 810.8,1143.3 812.2,1134.0 813.6,1129.3 815.0,1151.9 816.4,1147.0 817.8,1154.9 819.2,1146.1 820.6,1150.5 822.0,1147.5 823.4,1152.3 824.8,1145.6 826.2,1164.0 827.6,1144.3 829.0,1166.4 830.4,1152.1 831.8,1161.0 833.2,1155.8 834.6,1158.8 836.0,1167.4 837.4,1157.5 838.8,1149.7 840.2,1159.5 841.6,1164.2 843.0,1142.5 844.4,1169.9 845.8,1172.4 847.2,1152.8 848.6,1166.4 850.0,1174.9 851.4,1161.9 852.8,1168.7 854.2,1170.7 855.6,1178.5 857.0,1183.8 858.4,1177.1 859.8,1179.1 861.2,1186.5 862.6,1185.2 864.0,1182.1 865.4,1192.7 866.8,1174.3 868.2,1185.2 869.6,1181.6 871.0,1181.4 872.4,1186.3 873.8,1185.5 875.2,1201.8 876.6,1191.6 878.0,1191.4 879.4,1201.3 880.8,1199.0 882.2,1182.5 883.6,1196.7 885.0,1202.3 886.4,1193.9 887.8,1199.6 889.2,1194.8 890.6,1200.0 892.0,1187.5 893.4,1185.6 894.8,1194.3 896.2,1198.7 897.6,1204.8 899.0,1194.1 900.4,1190.5 901.8,1200.1 903.2,1194.0 904.6,1205.6 906.0,1195.4 907.4,1185.5 908.8,1193.9 910.2,1194.4 911.6,1193.1 913.0,1198.3 914.4,1199.9 915.8,1202.9 917.2,1201.8 918.6,1208.1 920.0,1208.7 921.4,1207.9 922.8,1208.5 924.2,1196.7 925.6,1198.5 927.0,1203.8 928.4,1211.1 929.8,1201.5 931.2,1208.2 932.6,1212.7 934.0,1223.4 935.4,1214.5 936.8,1211.2 938.2,1222.1 939.6,1218.4 941.0,1216.8 942.4,1226.4 943.8,1216.1 945.2,1223.3 946.6,1222.6 948.0,1227.4 949.4,1215.6 950.8,1214.7 952.2,1219.9 953.6,1220.6 955.0,1222.4 956.4,1220.0 957.8,1225.1 959.2,1227.4 960.6,1225.5 962.0,1219.2 963.4,1232.4 964.8,1218.2 966.2,1226.4 967.6,1233.3 969.0,1225.9 970.4,1237.2 971.8,1241.5 973.2,1240.4 974.6,1235.0 976.0,1238.8 977.4,1231.6 978.8,1236.2 980.2,1236.2 981.6,1234.0 983.0,1234.0 984.4,1231.8 985.8,1222.2 987.2,1234.5 988.6,1234.6 990.0,1244.9 991.4,1239.0 992.8,1236.7 994.2,1242.1 995.6,1241.9 997.0,1239.6 998.4,1238.4 999.8,1232.5 1001.2,1240.4 1002.6,1247.9 1004.0,1229.7 1005.4,1234.1 1006.8,1242.6 1008.2,1239.4 1009.6,1241.7 1011.0,1231.3 1012.4,1238.8 1013.8,1245.4 1015.2,1247.0 1016.6,1246.6 1018.0,1241.9 1019.4,1249.1 1020.8,1240.3 1022.2,1241.3 1023.6,1239.9 1025.0,1252.3 1026.4,1243.0 1027.8,1245.0 1029.2,1233.9 1030.6,1249.8 1032.0,1246.8 1033.4,1236.6 1034.8,1236.9 1036.2,1252.4 1037.6,1240.1 1039.0,1253.2 1040.4,1244.0 1041.8,1236.3 1043.2,1254.8 1044.6,1253.6 1046.0,1256.1 1047.4,1252.3 1048.8,1255.4 1050.2,1261.2 1051.6,1253.1 1053.0,1247.9 1054.4,1261.0 1055.8,1254.0 1057.2,1262.6 1058.6,1254.7 1060.0,1255.0 1061.4,1255.9 1062.8,1246.8 1064.2,1262.6 1065.6,1254.8 1067.0,1256.9 1068.4,1264.2 1069.8,1257.3 1071.2,1259.6 1072.6,1256.2 1074.0,1257.0 1075.4,1253.9 1076.8,1257.1 1078.2,1251.8 1079.6,1255.3 1081.0,1250.9 1082.4,1259.6 1083.8,1245.9 1085.2,1256.6 1086.6,1253.9 1088.0,1248.9 1089.4,1245.5 1090.8,1252.3 1092.2,1256.7 1093.6,1246.7 1095.0,1242.6 1096.4,1247.2 1097.8,1248.5 1099.2,1250.9 1100.6,1250.9 1102.0,1255.1 1103.4,1248.7 1104.8,1249.9 1106.2,1251.5 1107.6,1249.0 1109.0,1252.6 1110.4,1266.1 1111.8,1256.3 1113.2,1254.3 1114.6,1251.0 1116.0,1263.9 1117.4,1257.8 1118.8,1255.7 1120.2,1266.6 1121.6,1261.9 1123.0,1249.1 1124.4,1253.4 1125.8,1258.7 1127.2,1264.7 1128.6,1259.3 1130.0,1269.2 1131.4,1268.6 1132.8,1256.9 1134.2,1253.6 1135.6,1254.2 1137.0,1260.9 1138.4,1263.5 1139.8,1264.9 1141.2,1266.8 1142.6,1271.2 1144.0,1272.6 1145.4,1265.2 1146.8,1262.5 1148.2,1267.2 1149.6,1270.8 1151.0,1268.6 1152.4,1272.7 1153.8,1273.8 1155.2,1281.0 1156.6,1271.7 1158.0,1277.2 1159.4,1275.2 1160.8,1276.6 1162.2,1273.7 1163.6,1279.3 1165.0,1276.7 1166.4,1276.1 1167.8,1281.2 1169.2,1280.5 1170.6,1280.1 1172.0,1281.2 1173.4,1285.1 1174.8,1276.0 1176.2,1275.1 1177.6,1271.7 1179.0,1275.7 1180.4,1277.4 1181.8,1288.9 1183.2,1278.8 1184.6,1285.7 1186.0,1282.5 1187.4,1285.3 1188.8,1275.0 1190.2,1283.5 1191.6,1274.1 1193.0,1282.3 1194.4,1282.8 1195.8,1282.3 1197.2,1280.8 1198.6,1281.7 1200.0,1285.9 1201.4,1284.2 1202.8,1281.9 1204.2,1284.2 1205.6,1294.8 1207.0,1296.7 1208.4,1294.7 1209.8,1289.4 1211.2,1286.8 1212.6,1286.4 1214.0,1287.2 1215.4,1285.3 1216.8,1287.0 1218.2,1287.2 1219.6,1293.1 1221.0,1289.5 1222.4,1292.0 1223.8,1296.6 1225.2,1290.7 1226.6,1294.9 1228.0,1296.5 1229.4,1285.1 1230.8,1286.7 1232.2,1294.4 1233.6,1292.0 1235.0,1297.5 1236.4,1299.5 1237.8,1293.4 1239.2,1295.7 1240.6,1296.6 1242.0,1292.0 1243.4,1286.2 1244.8,1290.5 1246.2,1291.2 1247.6,1299.9 1249.0,1296.1 1250.4,1296.4 1251.8,1298.6 1253.2,1299.1 1254.6,1295.2 1256.0,1295.7 1257.4,1294.3 1258.8,1295.6 1260.2,1300.9 1261.6,1304.0 1263.0,1303.2 1264.4,1305.4 1265.8,1300.7 1267.2,1306.4 1268.6,1303.5 1270.0,1302.7 1271.4,1293.4 1272.8,1307.0 1274.2,1302.3 1275.6,1300.6 1277.0,1299.9 1278.4,1304.7 1279.8,1314.8 1281.2,1303.8 1282.6,1306.3 1284.0,1303.7 1285.4,1300.1 1286.8,1300.9 1288.2,1297.1 1289.6,1302.8 1291.0,1297.0 1292.4,1305.2 1293.8,1296.8 1295.2,1286.5 1296.6,1279.7 1298.0,1286.4 1299.4,1287.4 1300.8,1282.1 1302.2,1290.4 1303.6,1286.4 1305.0,1286.4 1306.4,1285.8 1307.8,1292.3 1309.2,1293.1 1310.6,1296.4 1312.0,1298.2 1313.4,1295.5 1314.8,1297.5 1316.2,1301.1 1317.6,1299.1 1319.0,1296.3 1320.4,1298.2 1321.8,1293.7 1323.2,1295.9 1324.6,1293.8 1326.0,1289.2 1327.4,1296.4 1328.8,1299.2 1330.2,1305.7 1331.6,1301.0 1333.0,1308.9 1334.4,1309.1 1335.8,1304.3 1337.2,1305.1 1338.6,1305.6 1340.0,1305.5 1341.4,1308.3 1342.8,1303.3 1344.2,1301.7 1345.6,1304.4 1347.0,1311.1 1348.4,1303.4 1349.8,1301.2 1351.2,1301.2 1352.6,1304.5 1354.0,1307.5 1355.4,1301.1 1356.8,1303.6 1358.2,1303.4 1359.6,1303.8 1361.0,1302.4 1362.4,1304.9 1363.8,1303.3 1365.2,1298.8 1366.6,1309.8 1368.0,1299.4 1369.4,1301.4 1370.8,1310.8 1372.2,1309.9 1373.6,1310.3 1375.0,1313.6 1376.4,1315.7 1377.8,1310.4 1379.2,1308.0 1380.6,1305.0 1382.0,1303.9 1383.4,1302.4 1384.8,1307.9 1386.2,1305.4 1387.6,1306.5 1389.0,1303.1 1390.4,1308.6 1391.8,1300.4 1393.2,1308.0 1394.6,1310.1 1396.0,1307.5 1397.4,1307.5 1398.8,1314.0 1400.2,1311.5 1401.6,1310.6 1403.0,1312.6 1404.4,1308.3 1405.8,1310.7 1407.2,1316.9 1408.6,1308.2 1410.0,1313.5 1411.4,1308.3 1412.8,1313.1 1414.2,1313.1 1415.6,1314.5 1417.0,1318.6 1418.4,1324.3 1419.8,1317.4 1421.2,1322.0 1422.6,1318.9 1424.0,1320.2 1425.4,1316.2 1426.8,1315.5 1428.2,1317.1 1429.6,1315.3 1431.0,1317.9 1432.4,1314.5 1433.8,1318.1 1435.2,1318.8 1436.6,1324.3 1438.0,1324.1 1439.4,1320.2 1440.8,1317.6 1442.2,1322.0 1443.6,1323.5 1445.0,1320.9 1446.4,1319.5 1447.8,1317.0 1449.2,1320.6 1450.6,1324.9 1452.0,1315.6 1453.4,1316.8 1454.8,1317.8 1456.2,1319.3 1457.6,1321.4 1459.0,1313.2 1460.4,1320.5 1461.8,1323.0 1463.2,1322.1 1464.6,1327.1 1466.0,1322.5 1467.4,1326.5 1468.8,1327.9 1470.2,1319.8 1471.6,1319.4 1473.0,1317.3 1474.4,1321.9 1475.8,1313.3 1477.2,1316.7 1478.6,1321.7 1480.0,1326.8 1481.4,1326.6 1482.8,1322.0 1484.2,1330.2 1485.6,1325.2 1487.0,1322.8 1488.4,1326.8 1489.8,1329.5 1491.2,1324.9 1492.6,1320.1 1494.0,1323.5 1495.4,1325.9 1496.8,1329.0 1498.2,1322.6 1499.6,1327.1 1501.0,1322.4 1502.4,1326.8 1503.8,1322.3 1505.2,1325.4 1506.6,1322.0 1508.0,1323.9 1509.4,1321.3 1510.8,1319.5 1512.2,1329.9 1513.6,1329.3 1515.0,1326.4 1516.4,1323.0 1517.8,1328.8 1519.2,1322.3 1520.6,1324.2 1522.0,1326.1 1523.4,1324.0 1524.8,1329.4 1526.2,1324.9 1527.6,1326.0 1529.0,1328.1 1530.4,1324.7 1531.8,1326.1 1533.2,1332.7 1534.6,1323.6 1536.0,1333.1 1537.4,1329.8 1538.8,1332.6 1540.2,1330.7 1541.6,1329.8 1543.0,1333.5 1544.4,1327.2 1545.8,1327.1 1547.2,1331.4 1548.6,1325.1 1550.0,1331.4 1551.4,1329.8 1552.8,1325.7 1554.2,1323.0 1555.6,1320.2 1557.0,1333.3 1558.4,1321.1 1559.8,1321.7 1561.2,1328.5 1562.6,1326.7 1564.0,1325.3 1565.4,1324.7 1566.8,1323.6 1568.2,1322.6 1569.6,1323.9 1571.0,1329.2 1572.4,1331.6 1573.8,1332.7 1575.2,1329.1 1576.6,1321.4 1578.0,1330.7 1579.4,1328.2 1580.8,1319.2 1582.2,1333.0 1583.6,1328.8 1585.0,1327.6 1586.4,1328.3 1587.8,1327.8 1589.2,1328.7 1590.6,1328.8 1592.0,1328.9 1593.4,1331.3 1594.8,1331.0 1596.2,1338.5 1597.6,1331.2 1599.0,1329.4 1600.4,1329.4 1601.8,1332.5 1603.2,1331.3 1604.6,1331.5 1606.0,1329.7 1607.4,1329.4 1608.8,1332.3 1610.2,1334.1 1611.6,1331.4 1613.0,1330.6 1614.4,1327.9 1615.8,1328.7 1617.2,1333.5 1618.6,1333.3 1620.0,1334.6 1621.4,1330.5 1622.8,1332.4 1624.2,1324.8 1625.6,1325.8 1627.0,1326.2 1628.4,1331.4 1629.8,1328.1 1631.2,1327.6 1632.6,1332.3 1634.0,1331.7 1635.4,1335.8 1636.8,1334.4 1638.2,1333.5 1639.6,1331.5 1641.0,1333.7 1642.4,1328.4 1643.8,1325.1 1645.2,1332.6 1646.6,1328.8 1648.0,1331.3 1649.4,1334.0 1650.8,1336.1 1652.2,1324.0 1653.6,1330.9 1655.0,1339.2 1656.4,1330.3 1657.8,1337.7 1659.2,1333.8 1660.6,1330.9 1662.0,1332.1 1663.4,1325.9 1664.8,1331.5 1666.2,1333.9 1667.6,1326.7 1669.0,1330.5 1670.4,1338.0 1671.8,1336.6 1673.2,1334.3 1674.6,1340.0 1676.0,1330.0 1677.4,1334.5 1678.0,1335.7"/>
</svg></body></html>
